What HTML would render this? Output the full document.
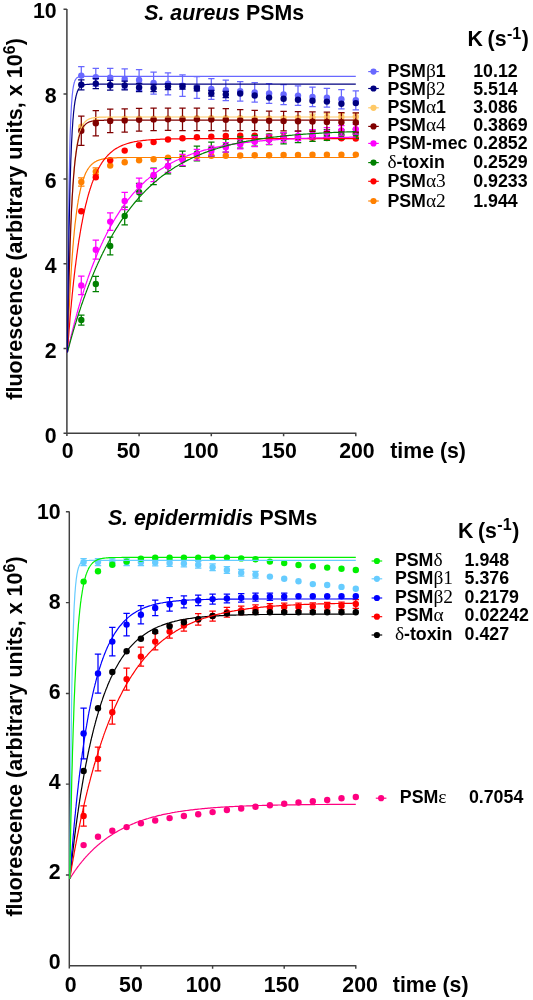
<!DOCTYPE html>
<html lang="en"><head><meta charset="utf-8"><title>PSM fluorescence kinetics</title>
<style>html,body{margin:0;padding:0;background:#fff}body{width:533px;height:1000px;overflow:hidden}svg{display:block;will-change:transform}</style>
</head><body>
<svg width="533" height="1000" viewBox="0 0 533 1000">
<rect width="533" height="1000" fill="#fff"/>
<path d="M66.9 8.9V436.1M63.5 433.3H356.4M63.5 348.5H66.9M63.5 263.7H66.9M63.5 178.9H66.9M63.5 94.1H66.9M63.5 9.3H66.9M139.1 433.3V436.3M211.3 433.3V436.3M283.6 433.3V436.3M355.8 433.3V436.3" stroke="#404040" stroke-width="1.5" fill="none"/>
<text x="56.6" y="18.2" text-anchor="end" font-family="Liberation Sans, Arial, sans-serif" font-weight="bold" font-size="21.3">10</text>
<text x="56.6" y="103.2" text-anchor="end" font-family="Liberation Sans, Arial, sans-serif" font-weight="bold" font-size="21.3">8</text>
<text x="56.6" y="188.2" text-anchor="end" font-family="Liberation Sans, Arial, sans-serif" font-weight="bold" font-size="21.3">6</text>
<text x="56.6" y="273.3" text-anchor="end" font-family="Liberation Sans, Arial, sans-serif" font-weight="bold" font-size="21.3">4</text>
<text x="56.6" y="358.3" text-anchor="end" font-family="Liberation Sans, Arial, sans-serif" font-weight="bold" font-size="21.3">2</text>
<text x="56.6" y="443.3" text-anchor="end" font-family="Liberation Sans, Arial, sans-serif" font-weight="bold" font-size="21.3">0</text>
<text x="67.7" y="458.2" text-anchor="middle" font-family="Liberation Sans, Arial, sans-serif" font-weight="bold" font-size="21.3">0</text>
<text x="128.5" y="458.2" text-anchor="middle" font-family="Liberation Sans, Arial, sans-serif" font-weight="bold" font-size="21.3">50</text>
<text x="200.9" y="458.2" text-anchor="middle" font-family="Liberation Sans, Arial, sans-serif" font-weight="bold" font-size="21.3">100</text>
<text x="279.0" y="458.2" text-anchor="middle" font-family="Liberation Sans, Arial, sans-serif" font-weight="bold" font-size="21.3">150</text>
<text x="356.9" y="458.2" text-anchor="middle" font-family="Liberation Sans, Arial, sans-serif" font-weight="bold" font-size="21.3">200</text>
<g><path d="M81.3 177.8V186.0M78.1 177.8H84.5M78.1 186.0H84.5" stroke="#ff8000" stroke-width="1.25" fill="none"/><circle cx="81.3" cy="181.9" r="3.2" fill="#ff8000"/><path d="M95.8 167.9V174.5M92.6 167.9H99.0M92.6 174.5H99.0" stroke="#ff8000" stroke-width="1.25" fill="none"/><circle cx="95.8" cy="171.6" r="3.2" fill="#ff8000"/><circle cx="110.2" cy="165.6" r="3.2" fill="#ff8000"/><circle cx="124.7" cy="162.2" r="3.2" fill="#ff8000"/><circle cx="139.1" cy="160.3" r="3.2" fill="#ff8000"/><circle cx="153.6" cy="159.2" r="3.2" fill="#ff8000"/><circle cx="168.0" cy="157.8" r="3.2" fill="#ff8000"/><circle cx="182.5" cy="157.0" r="3.2" fill="#ff8000"/><circle cx="196.9" cy="156.3" r="3.2" fill="#ff8000"/><circle cx="211.3" cy="155.8" r="3.2" fill="#ff8000"/><circle cx="225.8" cy="155.7" r="3.2" fill="#ff8000"/><circle cx="240.2" cy="155.5" r="3.2" fill="#ff8000"/><circle cx="254.7" cy="155.3" r="3.2" fill="#ff8000"/><circle cx="269.1" cy="155.2" r="3.2" fill="#ff8000"/><circle cx="283.6" cy="155.0" r="3.2" fill="#ff8000"/><circle cx="298.0" cy="154.9" r="3.2" fill="#ff8000"/><circle cx="312.5" cy="154.8" r="3.2" fill="#ff8000"/><circle cx="326.9" cy="154.8" r="3.2" fill="#ff8000"/><circle cx="341.4" cy="154.7" r="3.2" fill="#ff8000"/><circle cx="355.8" cy="154.6" r="3.2" fill="#ff8000"/></g>
<g><circle cx="81.3" cy="211.3" r="3.2" fill="#ff0000"/><circle cx="95.8" cy="177.2" r="3.2" fill="#ff0000"/><circle cx="110.2" cy="160.3" r="3.2" fill="#ff0000"/><circle cx="124.7" cy="150.6" r="3.2" fill="#ff0000"/><circle cx="139.1" cy="145.3" r="3.2" fill="#ff0000"/><circle cx="153.6" cy="142.1" r="3.2" fill="#ff0000"/><circle cx="168.0" cy="139.5" r="3.2" fill="#ff0000"/><circle cx="182.5" cy="138.2" r="3.2" fill="#ff0000"/><circle cx="196.9" cy="137.3" r="3.2" fill="#ff0000"/><circle cx="211.3" cy="136.6" r="3.2" fill="#ff0000"/><circle cx="225.8" cy="136.0" r="3.2" fill="#ff0000"/><circle cx="240.2" cy="135.6" r="3.2" fill="#ff0000"/><circle cx="254.7" cy="135.8" r="3.2" fill="#ff0000"/><circle cx="269.1" cy="136.5" r="3.2" fill="#ff0000"/><circle cx="283.6" cy="137.0" r="3.2" fill="#ff0000"/><circle cx="298.0" cy="137.5" r="3.2" fill="#ff0000"/><circle cx="312.5" cy="137.8" r="3.2" fill="#ff0000"/><circle cx="326.9" cy="138.0" r="3.2" fill="#ff0000"/><circle cx="341.4" cy="138.2" r="3.2" fill="#ff0000"/><circle cx="355.8" cy="138.5" r="3.2" fill="#ff0000"/></g>
<g><path d="M81.3 315.0V325.0M78.1 315.0H84.5M78.1 325.0H84.5" stroke="#008000" stroke-width="1.25" fill="none"/><circle cx="81.3" cy="320.0" r="3.2" fill="#008000"/><path d="M95.8 276.4V291.6M92.6 276.4H99.0M92.6 291.6H99.0" stroke="#008000" stroke-width="1.25" fill="none"/><circle cx="95.8" cy="284.0" r="3.2" fill="#008000"/><path d="M110.2 237.2V254.8M107.0 237.2H113.4M107.0 254.8H113.4" stroke="#008000" stroke-width="1.25" fill="none"/><circle cx="110.2" cy="246.0" r="3.2" fill="#008000"/><path d="M124.7 207.1V224.9M121.5 207.1H127.9M121.5 224.9H127.9" stroke="#008000" stroke-width="1.25" fill="none"/><circle cx="124.7" cy="216.0" r="3.2" fill="#008000"/><path d="M139.1 183.4V201.0M135.9 183.4H142.3M135.9 201.0H142.3" stroke="#008000" stroke-width="1.25" fill="none"/><circle cx="139.1" cy="192.2" r="3.2" fill="#008000"/><path d="M153.6 168.1V184.5M150.4 168.1H156.8M150.4 184.5H156.8" stroke="#008000" stroke-width="1.25" fill="none"/><circle cx="153.6" cy="176.3" r="3.2" fill="#008000"/><path d="M168.0 158.7V173.9M164.8 158.7H171.2M164.8 173.9H171.2" stroke="#008000" stroke-width="1.25" fill="none"/><circle cx="168.0" cy="166.3" r="3.2" fill="#008000"/><path d="M182.5 151.2V166.4M179.3 151.2H185.7M179.3 166.4H185.7" stroke="#008000" stroke-width="1.25" fill="none"/><circle cx="182.5" cy="158.8" r="3.2" fill="#008000"/><path d="M196.9 146.0V160.8M193.7 146.0H200.1M193.7 160.8H200.1" stroke="#008000" stroke-width="1.25" fill="none"/><circle cx="196.9" cy="153.4" r="3.2" fill="#008000"/><path d="M211.3 142.0V156.0M208.2 142.0H214.5M208.2 156.0H214.5" stroke="#008000" stroke-width="1.25" fill="none"/><circle cx="211.3" cy="149.0" r="3.2" fill="#008000"/><path d="M225.8 139.3V152.1M222.6 139.3H229.0M222.6 152.1H229.0" stroke="#008000" stroke-width="1.25" fill="none"/><circle cx="225.8" cy="145.7" r="3.2" fill="#008000"/><path d="M240.2 136.9V148.1M237.0 136.9H243.4M237.0 148.1H243.4" stroke="#008000" stroke-width="1.25" fill="none"/><circle cx="240.2" cy="142.5" r="3.2" fill="#008000"/><path d="M254.7 135.4V146.2M251.5 135.4H257.9M251.5 146.2H257.9" stroke="#008000" stroke-width="1.25" fill="none"/><circle cx="254.7" cy="140.8" r="3.2" fill="#008000"/><path d="M269.1 134.2V144.6M265.9 134.2H272.3M265.9 144.6H272.3" stroke="#008000" stroke-width="1.25" fill="none"/><circle cx="269.1" cy="139.4" r="3.2" fill="#008000"/><path d="M283.6 133.0V143.8M280.4 133.0H286.8M280.4 143.8H286.8" stroke="#008000" stroke-width="1.25" fill="none"/><circle cx="283.6" cy="138.4" r="3.2" fill="#008000"/><path d="M298.0 131.0V142.6M294.8 131.0H301.2M294.8 142.6H301.2" stroke="#008000" stroke-width="1.25" fill="none"/><circle cx="298.0" cy="136.8" r="3.2" fill="#008000"/><path d="M312.5 130.2V141.4M309.3 130.2H315.7M309.3 141.4H315.7" stroke="#008000" stroke-width="1.25" fill="none"/><circle cx="312.5" cy="135.8" r="3.2" fill="#008000"/><path d="M326.9 129.6V140.4M323.7 129.6H330.1M323.7 140.4H330.1" stroke="#008000" stroke-width="1.25" fill="none"/><circle cx="326.9" cy="135.0" r="3.2" fill="#008000"/><path d="M341.4 129.8V139.4M338.2 129.8H344.6M338.2 139.4H344.6" stroke="#008000" stroke-width="1.25" fill="none"/><circle cx="341.4" cy="134.6" r="3.2" fill="#008000"/><path d="M355.8 129.2V138.4M352.6 129.2H359.0M352.6 138.4H359.0" stroke="#008000" stroke-width="1.25" fill="none"/><circle cx="355.8" cy="133.8" r="3.2" fill="#008000"/></g>
<g><path d="M81.3 276.2V294.6M78.1 276.2H84.5M78.1 294.6H84.5" stroke="#ff00ff" stroke-width="1.25" fill="none"/><circle cx="81.3" cy="285.4" r="3.2" fill="#ff00ff"/><path d="M95.8 240.2V259.2M92.6 240.2H99.0M92.6 259.2H99.0" stroke="#ff00ff" stroke-width="1.25" fill="none"/><circle cx="95.8" cy="249.7" r="3.2" fill="#ff00ff"/><path d="M110.2 212.8V230.4M107.0 212.8H113.4M107.0 230.4H113.4" stroke="#ff00ff" stroke-width="1.25" fill="none"/><circle cx="110.2" cy="221.6" r="3.2" fill="#ff00ff"/><path d="M124.7 192.3V209.7M121.5 192.3H127.9M121.5 209.7H127.9" stroke="#ff00ff" stroke-width="1.25" fill="none"/><circle cx="124.7" cy="201.0" r="3.2" fill="#ff00ff"/><path d="M139.1 178.2V193.2M135.9 178.2H142.3M135.9 193.2H142.3" stroke="#ff00ff" stroke-width="1.25" fill="none"/><circle cx="139.1" cy="185.7" r="3.2" fill="#ff00ff"/><path d="M153.6 168.5V181.5M150.4 168.5H156.8M150.4 181.5H156.8" stroke="#ff00ff" stroke-width="1.25" fill="none"/><circle cx="153.6" cy="175.0" r="3.2" fill="#ff00ff"/><path d="M168.0 159.7V172.3M164.8 159.7H171.2M164.8 172.3H171.2" stroke="#ff00ff" stroke-width="1.25" fill="none"/><circle cx="168.0" cy="166.0" r="3.2" fill="#ff00ff"/><path d="M182.5 154.3V165.7M179.3 154.3H185.7M179.3 165.7H185.7" stroke="#ff00ff" stroke-width="1.25" fill="none"/><circle cx="182.5" cy="160.0" r="3.2" fill="#ff00ff"/><path d="M196.9 149.3V160.1M193.7 149.3H200.1M193.7 160.1H200.1" stroke="#ff00ff" stroke-width="1.25" fill="none"/><circle cx="196.9" cy="154.7" r="3.2" fill="#ff00ff"/><path d="M211.3 146.2V155.8M208.2 146.2H214.5M208.2 155.8H214.5" stroke="#ff00ff" stroke-width="1.25" fill="none"/><circle cx="211.3" cy="151.0" r="3.2" fill="#ff00ff"/><path d="M225.8 142.5V152.1M222.6 142.5H229.0M222.6 152.1H229.0" stroke="#ff00ff" stroke-width="1.25" fill="none"/><circle cx="225.8" cy="147.3" r="3.2" fill="#ff00ff"/><path d="M240.2 139.5V148.9M237.0 139.5H243.4M237.0 148.9H243.4" stroke="#ff00ff" stroke-width="1.25" fill="none"/><circle cx="240.2" cy="144.2" r="3.2" fill="#ff00ff"/><path d="M254.7 136.9V146.5M251.5 136.9H257.9M251.5 146.5H257.9" stroke="#ff00ff" stroke-width="1.25" fill="none"/><circle cx="254.7" cy="141.7" r="3.2" fill="#ff00ff"/><path d="M269.1 134.8V144.4M265.9 134.8H272.3M265.9 144.4H272.3" stroke="#ff00ff" stroke-width="1.25" fill="none"/><circle cx="269.1" cy="139.6" r="3.2" fill="#ff00ff"/><path d="M283.6 132.6V142.2M280.4 132.6H286.8M280.4 142.2H286.8" stroke="#ff00ff" stroke-width="1.25" fill="none"/><circle cx="283.6" cy="137.4" r="3.2" fill="#ff00ff"/><path d="M298.0 131.0V140.6M294.8 131.0H301.2M294.8 140.6H301.2" stroke="#ff00ff" stroke-width="1.25" fill="none"/><circle cx="298.0" cy="135.8" r="3.2" fill="#ff00ff"/><path d="M312.5 129.6V139.2M309.3 129.6H315.7M309.3 139.2H315.7" stroke="#ff00ff" stroke-width="1.25" fill="none"/><circle cx="312.5" cy="134.4" r="3.2" fill="#ff00ff"/><path d="M326.9 127.6V137.2M323.7 127.6H330.1M323.7 137.2H330.1" stroke="#ff00ff" stroke-width="1.25" fill="none"/><circle cx="326.9" cy="132.4" r="3.2" fill="#ff00ff"/><path d="M341.4 125.6V135.2M338.2 125.6H344.6M338.2 135.2H344.6" stroke="#ff00ff" stroke-width="1.25" fill="none"/><circle cx="341.4" cy="130.4" r="3.2" fill="#ff00ff"/><path d="M355.8 124.4V134.0M352.6 124.4H359.0M352.6 134.0H359.0" stroke="#ff00ff" stroke-width="1.25" fill="none"/><circle cx="355.8" cy="129.2" r="3.2" fill="#ff00ff"/></g>
<g><circle cx="81.3" cy="126.6" r="3.2" fill="#ffc966"/><circle cx="95.8" cy="121.6" r="3.2" fill="#ffc966"/><circle cx="110.2" cy="119.6" r="3.2" fill="#ffc966"/><circle cx="124.7" cy="118.8" r="3.2" fill="#ffc966"/><circle cx="139.1" cy="118.7" r="3.2" fill="#ffc966"/><circle cx="153.6" cy="118.6" r="3.2" fill="#ffc966"/><circle cx="168.0" cy="118.5" r="3.2" fill="#ffc966"/><circle cx="182.5" cy="118.4" r="3.2" fill="#ffc966"/><circle cx="196.9" cy="118.3" r="3.2" fill="#ffc966"/><circle cx="211.3" cy="118.2" r="3.2" fill="#ffc966"/><circle cx="225.8" cy="118.2" r="3.2" fill="#ffc966"/><circle cx="240.2" cy="118.3" r="3.2" fill="#ffc966"/><circle cx="254.7" cy="118.4" r="3.2" fill="#ffc966"/><circle cx="269.1" cy="118.4" r="3.2" fill="#ffc966"/><circle cx="283.6" cy="118.1" r="3.2" fill="#ffc966"/><circle cx="298.0" cy="117.7" r="3.2" fill="#ffc966"/><path d="M312.5 114.0V120.8M309.3 114.0H315.7M309.3 120.8H315.7" stroke="#ffc966" stroke-width="1.25" fill="none"/><circle cx="312.5" cy="117.4" r="3.2" fill="#ffc966"/><path d="M326.9 113.7V120.5M323.7 113.7H330.1M323.7 120.5H330.1" stroke="#ffc966" stroke-width="1.25" fill="none"/><circle cx="326.9" cy="117.1" r="3.2" fill="#ffc966"/><path d="M341.4 113.5V120.3M338.2 113.5H344.6M338.2 120.3H344.6" stroke="#ffc966" stroke-width="1.25" fill="none"/><circle cx="341.4" cy="116.9" r="3.2" fill="#ffc966"/><path d="M355.8 113.2V120.0M352.6 113.2H359.0M352.6 120.0H359.0" stroke="#ffc966" stroke-width="1.25" fill="none"/><circle cx="355.8" cy="116.6" r="3.2" fill="#ffc966"/></g>
<g><path d="M81.3 116.1V145.3M78.1 116.1H84.5M78.1 145.3H84.5" stroke="#800000" stroke-width="1.25" fill="none"/><circle cx="81.3" cy="130.7" r="3.2" fill="#800000"/><path d="M95.8 110.6V135.8M92.6 110.6H99.0M92.6 135.8H99.0" stroke="#800000" stroke-width="1.25" fill="none"/><circle cx="95.8" cy="123.2" r="3.2" fill="#800000"/><path d="M110.2 109.1V132.7M107.0 109.1H113.4M107.0 132.7H113.4" stroke="#800000" stroke-width="1.25" fill="none"/><circle cx="110.2" cy="120.9" r="3.2" fill="#800000"/><path d="M124.7 108.8V132.0M121.5 108.8H127.9M121.5 132.0H127.9" stroke="#800000" stroke-width="1.25" fill="none"/><circle cx="124.7" cy="120.4" r="3.2" fill="#800000"/><path d="M139.1 108.4V131.2M135.9 108.4H142.3M135.9 131.2H142.3" stroke="#800000" stroke-width="1.25" fill="none"/><circle cx="139.1" cy="119.8" r="3.2" fill="#800000"/><path d="M153.6 108.2V130.6M150.4 108.2H156.8M150.4 130.6H156.8" stroke="#800000" stroke-width="1.25" fill="none"/><circle cx="153.6" cy="119.4" r="3.2" fill="#800000"/><path d="M168.0 108.0V130.4M164.8 108.0H171.2M164.8 130.4H171.2" stroke="#800000" stroke-width="1.25" fill="none"/><circle cx="168.0" cy="119.2" r="3.2" fill="#800000"/><path d="M182.5 108.1V130.5M179.3 108.1H185.7M179.3 130.5H185.7" stroke="#800000" stroke-width="1.25" fill="none"/><circle cx="182.5" cy="119.3" r="3.2" fill="#800000"/><path d="M196.9 108.1V130.5M193.7 108.1H200.1M193.7 130.5H200.1" stroke="#800000" stroke-width="1.25" fill="none"/><circle cx="196.9" cy="119.3" r="3.2" fill="#800000"/><path d="M211.3 108.2V130.6M208.2 108.2H214.5M208.2 130.6H214.5" stroke="#800000" stroke-width="1.25" fill="none"/><circle cx="211.3" cy="119.4" r="3.2" fill="#800000"/><path d="M225.8 108.5V130.9M222.6 108.5H229.0M222.6 130.9H229.0" stroke="#800000" stroke-width="1.25" fill="none"/><circle cx="225.8" cy="119.7" r="3.2" fill="#800000"/><path d="M240.2 109.7V130.5M237.0 109.7H243.4M237.0 130.5H243.4" stroke="#800000" stroke-width="1.25" fill="none"/><circle cx="240.2" cy="120.1" r="3.2" fill="#800000"/><path d="M254.7 110.3V130.5M251.5 110.3H257.9M251.5 130.5H257.9" stroke="#800000" stroke-width="1.25" fill="none"/><circle cx="254.7" cy="120.4" r="3.2" fill="#800000"/><path d="M269.1 111.0V130.6M265.9 111.0H272.3M265.9 130.6H272.3" stroke="#800000" stroke-width="1.25" fill="none"/><circle cx="269.1" cy="120.8" r="3.2" fill="#800000"/><path d="M283.6 111.3V130.8M280.4 111.3H286.8M280.4 130.8H286.8" stroke="#800000" stroke-width="1.25" fill="none"/><circle cx="283.6" cy="121.1" r="3.2" fill="#800000"/><path d="M298.0 111.6V131.1M294.8 111.6H301.2M294.8 131.1H301.2" stroke="#800000" stroke-width="1.25" fill="none"/><circle cx="298.0" cy="121.3" r="3.2" fill="#800000"/><path d="M312.5 111.9V131.3M309.3 111.9H315.7M309.3 131.3H315.7" stroke="#800000" stroke-width="1.25" fill="none"/><circle cx="312.5" cy="121.6" r="3.2" fill="#800000"/><path d="M326.9 112.2V131.6M323.7 112.2H330.1M323.7 131.6H330.1" stroke="#800000" stroke-width="1.25" fill="none"/><circle cx="326.9" cy="121.9" r="3.2" fill="#800000"/><path d="M341.4 112.6V131.8M338.2 112.6H344.6M338.2 131.8H344.6" stroke="#800000" stroke-width="1.25" fill="none"/><circle cx="341.4" cy="122.2" r="3.2" fill="#800000"/><path d="M355.8 112.9V132.1M352.6 112.9H359.0M352.6 132.1H359.0" stroke="#800000" stroke-width="1.25" fill="none"/><circle cx="355.8" cy="122.5" r="3.2" fill="#800000"/></g>
<g><path d="M81.3 66.5V84.7M78.1 66.5H84.5M78.1 84.7H84.5" stroke="#6868ff" stroke-width="1.25" fill="none"/><circle cx="81.3" cy="75.6" r="3.2" fill="#6868ff"/><path d="M95.8 68.4V86.0M92.6 68.4H99.0M92.6 86.0H99.0" stroke="#6868ff" stroke-width="1.25" fill="none"/><circle cx="95.8" cy="77.2" r="3.2" fill="#6868ff"/><path d="M110.2 68.4V87.2M107.0 68.4H113.4M107.0 87.2H113.4" stroke="#6868ff" stroke-width="1.25" fill="none"/><circle cx="110.2" cy="77.8" r="3.2" fill="#6868ff"/><path d="M124.7 68.8V89.2M121.5 68.8H127.9M121.5 89.2H127.9" stroke="#6868ff" stroke-width="1.25" fill="none"/><circle cx="124.7" cy="79.0" r="3.2" fill="#6868ff"/><path d="M139.1 69.7V90.3M135.9 69.7H142.3M135.9 90.3H142.3" stroke="#6868ff" stroke-width="1.25" fill="none"/><circle cx="139.1" cy="80.0" r="3.2" fill="#6868ff"/><path d="M153.6 72.0V94.0M150.4 72.0H156.8M150.4 94.0H156.8" stroke="#6868ff" stroke-width="1.25" fill="none"/><circle cx="153.6" cy="83.0" r="3.2" fill="#6868ff"/><path d="M168.0 72.8V94.8M164.8 72.8H171.2M164.8 94.8H171.2" stroke="#6868ff" stroke-width="1.25" fill="none"/><circle cx="168.0" cy="83.8" r="3.2" fill="#6868ff"/><path d="M182.5 74.8V96.4M179.3 74.8H185.7M179.3 96.4H185.7" stroke="#6868ff" stroke-width="1.25" fill="none"/><circle cx="182.5" cy="85.6" r="3.2" fill="#6868ff"/><path d="M196.9 76.7V98.3M193.7 76.7H200.1M193.7 98.3H200.1" stroke="#6868ff" stroke-width="1.25" fill="none"/><circle cx="196.9" cy="87.5" r="3.2" fill="#6868ff"/><path d="M211.3 78.7V99.3M208.2 78.7H214.5M208.2 99.3H214.5" stroke="#6868ff" stroke-width="1.25" fill="none"/><circle cx="211.3" cy="89.0" r="3.2" fill="#6868ff"/><path d="M225.8 80.1V100.5M222.6 80.1H229.0M222.6 100.5H229.0" stroke="#6868ff" stroke-width="1.25" fill="none"/><circle cx="225.8" cy="90.3" r="3.2" fill="#6868ff"/><path d="M240.2 81.5V101.1M237.0 81.5H243.4M237.0 101.1H243.4" stroke="#6868ff" stroke-width="1.25" fill="none"/><circle cx="240.2" cy="91.3" r="3.2" fill="#6868ff"/><path d="M254.7 82.6V102.2M251.5 82.6H257.9M251.5 102.2H257.9" stroke="#6868ff" stroke-width="1.25" fill="none"/><circle cx="254.7" cy="92.4" r="3.2" fill="#6868ff"/><path d="M269.1 83.7V103.3M265.9 83.7H272.3M265.9 103.3H272.3" stroke="#6868ff" stroke-width="1.25" fill="none"/><circle cx="269.1" cy="93.5" r="3.2" fill="#6868ff"/><path d="M283.6 84.5V104.5M280.4 84.5H286.8M280.4 104.5H286.8" stroke="#6868ff" stroke-width="1.25" fill="none"/><circle cx="283.6" cy="94.5" r="3.2" fill="#6868ff"/><path d="M298.0 85.8V105.4M294.8 85.8H301.2M294.8 105.4H301.2" stroke="#6868ff" stroke-width="1.25" fill="none"/><circle cx="298.0" cy="95.6" r="3.2" fill="#6868ff"/><path d="M312.5 87.2V106.6M309.3 87.2H315.7M309.3 106.6H315.7" stroke="#6868ff" stroke-width="1.25" fill="none"/><circle cx="312.5" cy="96.9" r="3.2" fill="#6868ff"/><path d="M326.9 88.4V107.2M323.7 88.4H330.1M323.7 107.2H330.1" stroke="#6868ff" stroke-width="1.25" fill="none"/><circle cx="326.9" cy="97.8" r="3.2" fill="#6868ff"/><path d="M341.4 89.6V108.8M338.2 89.6H344.6M338.2 108.8H344.6" stroke="#6868ff" stroke-width="1.25" fill="none"/><circle cx="341.4" cy="99.2" r="3.2" fill="#6868ff"/><path d="M355.8 90.8V109.8M352.6 90.8H359.0M352.6 109.8H359.0" stroke="#6868ff" stroke-width="1.25" fill="none"/><circle cx="355.8" cy="100.3" r="3.2" fill="#6868ff"/></g>
<g><path d="M81.3 79.8V89.8M78.1 79.8H84.5M78.1 89.8H84.5" stroke="#000080" stroke-width="1.25" fill="none"/><circle cx="81.3" cy="84.8" r="3.2" fill="#000080"/><path d="M95.8 78.6V88.6M92.6 78.6H99.0M92.6 88.6H99.0" stroke="#000080" stroke-width="1.25" fill="none"/><circle cx="95.8" cy="83.6" r="3.2" fill="#000080"/><path d="M110.2 80.4V90.0M107.0 80.4H113.4M107.0 90.0H113.4" stroke="#000080" stroke-width="1.25" fill="none"/><circle cx="110.2" cy="85.2" r="3.2" fill="#000080"/><path d="M124.7 81.0V89.8M121.5 81.0H127.9M121.5 89.8H127.9" stroke="#000080" stroke-width="1.25" fill="none"/><circle cx="124.7" cy="85.4" r="3.2" fill="#000080"/><path d="M139.1 83.3V91.7M135.9 83.3H142.3M135.9 91.7H142.3" stroke="#000080" stroke-width="1.25" fill="none"/><circle cx="139.1" cy="87.5" r="3.2" fill="#000080"/><path d="M153.6 84.5V91.7M150.4 84.5H156.8M150.4 91.7H156.8" stroke="#000080" stroke-width="1.25" fill="none"/><circle cx="153.6" cy="88.1" r="3.2" fill="#000080"/><path d="M168.0 83.6V89.6M164.8 83.6H171.2M164.8 89.6H171.2" stroke="#000080" stroke-width="1.25" fill="none"/><circle cx="168.0" cy="86.6" r="3.2" fill="#000080"/><path d="M182.5 84.0V89.2M179.3 84.0H185.7M179.3 89.2H185.7" stroke="#000080" stroke-width="1.25" fill="none"/><circle cx="182.5" cy="86.6" r="3.2" fill="#000080"/><path d="M196.9 86.1V90.9M193.7 86.1H200.1M193.7 90.9H200.1" stroke="#000080" stroke-width="1.25" fill="none"/><circle cx="196.9" cy="88.5" r="3.2" fill="#000080"/><path d="M211.3 90.4V96.0M208.2 90.4H214.5M208.2 96.0H214.5" stroke="#000080" stroke-width="1.25" fill="none"/><circle cx="211.3" cy="93.2" r="3.2" fill="#000080"/><path d="M225.8 91.3V97.7M222.6 91.3H229.0M222.6 97.7H229.0" stroke="#000080" stroke-width="1.25" fill="none"/><circle cx="225.8" cy="94.5" r="3.2" fill="#000080"/><circle cx="240.2" cy="93.5" r="3.2" fill="#000080"/><circle cx="254.7" cy="95.5" r="3.2" fill="#000080"/><circle cx="269.1" cy="97.6" r="3.2" fill="#000080"/><circle cx="283.6" cy="98.8" r="3.2" fill="#000080"/><circle cx="298.0" cy="99.7" r="3.2" fill="#000080"/><circle cx="312.5" cy="100.7" r="3.2" fill="#000080"/><circle cx="326.9" cy="101.6" r="3.2" fill="#000080"/><circle cx="341.4" cy="103.8" r="3.2" fill="#000080"/><circle cx="355.8" cy="103.1" r="3.2" fill="#000080"/></g>
<path d="M67.4 352.5 L67.7 343.3 L68.1 334.5 L68.4 326.1 L68.8 318.1 L69.1 310.5 L69.5 303.2 L69.8 296.3 L70.1 289.7 L70.5 283.4 L70.8 277.5 L71.2 271.8 L71.5 266.3 L71.9 261.2 L72.2 256.3 L72.6 251.6 L72.9 247.1 L73.3 242.9 L73.6 238.8 L74.0 235.0 L74.3 231.3 L74.7 227.8 L75.0 224.4 L75.4 221.3 L75.8 218.2 L76.1 215.4 L76.5 212.6 L76.8 210.0 L77.2 207.5 L77.5 205.1 L77.9 202.9 L78.2 200.7 L78.6 198.7 L78.9 196.7 L79.3 194.9 L79.7 193.1 L80.0 191.4 L80.4 189.8 L80.7 188.3 L81.1 186.8 L81.4 185.4 L81.8 184.1 L82.2 182.8 L82.5 181.6 L82.9 180.5 L83.2 179.4 L83.6 178.3 L83.9 177.4 L84.3 176.4 L84.7 175.5 L85.0 174.7 L85.4 173.8 L85.7 173.1 L86.1 172.3 L86.5 171.6 L86.8 171.0 L87.2 170.3 L87.5 169.7 L87.9 169.1 L88.2 168.6 L88.6 168.0 L89.0 167.5 L89.3 167.1 L89.7 166.6 L90.0 166.2 L90.4 165.8 L90.8 165.4 L91.1 165.0 L91.5 164.6 L91.8 164.3 L92.2 164.0 L92.6 163.7 L92.9 163.4 L93.3 163.1 L93.6 162.8 L94.0 162.6 L94.4 162.3 L94.7 162.1 L95.1 161.9 L95.4 161.7 L95.8 161.5 L96.2 161.3 L96.5 161.1 L96.9 160.9 L97.2 160.8 L97.6 160.6 L98.0 160.5 L98.3 160.3 L98.7 160.2 L99.1 160.1 L99.4 159.9 L99.8 159.8 L100.1 159.7 L100.5 159.6 L100.9 159.5 L101.2 159.4 L101.6 159.3 L101.9 159.2 L102.3 159.2 L102.7 159.1 L103.0 159.0 L103.4 158.9 L103.7 158.9 L104.1 158.8 L104.5 158.7 L104.8 158.7 L105.2 158.6 L105.5 158.6 L105.9 158.5 L106.3 158.5 L106.6 158.4 L107.0 158.4 L107.4 158.3 L107.7 158.3 L108.1 158.3 L108.4 158.2 L108.8 158.2 L109.2 158.1 L109.5 158.1 L109.9 158.1 L110.2 158.1 L111.7 158.0 L113.1 157.9 L114.6 157.8 L116.0 157.8 L117.5 157.7 L118.9 157.7 L120.3 157.6 L121.8 157.6 L123.2 157.6 L124.7 157.6 L126.1 157.6 L127.6 157.5 L129.0 157.5 L130.5 157.5 L131.9 157.5 L133.3 157.5 L134.8 157.5 L136.2 157.5 L137.7 157.5 L139.1 157.5 L140.6 157.5 L142.0 157.5 L143.5 157.5 L144.9 157.5 L146.3 157.5 L147.8 157.5 L149.2 157.5 L150.7 157.5 L152.1 157.5 L153.6 157.5 L155.0 157.5 L156.5 157.5 L157.9 157.5 L159.3 157.5 L160.8 157.5 L162.2 157.5 L163.7 157.5 L165.1 157.5 L166.6 157.5 L168.0 157.5 L169.5 157.5 L170.9 157.5 L172.3 157.5 L173.8 157.5 L175.2 157.5 L176.7 157.5 L178.1 157.5 L179.6 157.5 L181.0 157.5 L182.5 157.5 L183.9 157.5 L185.3 157.5 L186.8 157.5 L188.2 157.5 L189.7 157.5 L191.1 157.5 L192.6 157.5 L194.0 157.5 L195.5 157.5 L196.9 157.5 L198.3 157.5 L199.8 157.5 L201.2 157.5 L202.7 157.5 L204.1 157.5 L205.6 157.5 L207.0 157.5 L208.5 157.5 L209.9 157.5 L211.4 157.5 L212.8 157.5 L214.2 157.5 L215.7 157.5 L217.1 157.5 L218.6 157.5 L220.0 157.5 L221.5 157.5 L222.9 157.5 L224.4 157.5 L225.8 157.5 L227.2 157.5 L228.7 157.5 L230.1 157.5 L231.6 157.5 L233.0 157.5 L234.5 157.5 L235.9 157.5 L237.4 157.5 L238.8 157.5 L240.2 157.5 L241.7 157.5 L243.1 157.5 L244.6 157.5 L246.0 157.5 L247.5 157.5 L248.9 157.5 L250.4 157.5 L251.8 157.5 L253.2 157.5 L254.7 157.5 L256.1 157.5 L257.6 157.5 L259.0 157.5 L260.5 157.5 L261.9 157.5 L263.4 157.5 L264.8 157.5 L266.2 157.5 L267.7 157.5 L269.1 157.5 L270.6 157.5 L272.0 157.5 L273.5 157.5 L274.9 157.5 L276.4 157.5 L277.8 157.5 L279.2 157.5 L280.7 157.5 L282.1 157.5 L283.6 157.5 L285.0 157.5 L286.5 157.5 L287.9 157.5 L289.4 157.5 L290.8 157.5 L292.2 157.5 L293.7 157.5 L295.1 157.5 L296.6 157.5 L298.0 157.5 L299.5 157.5 L300.9 157.5 L302.4 157.5 L303.8 157.5 L305.2 157.5 L306.7 157.5 L308.1 157.5 L309.6 157.5 L311.0 157.5 L312.5 157.5 L313.9 157.5 L315.4 157.5 L316.8 157.5 L318.2 157.5 L319.7 157.5 L321.1 157.5 L322.6 157.5 L324.0 157.5 L325.5 157.5 L326.9 157.5 L328.4 157.5 L329.8 157.5 L331.2 157.5 L332.7 157.5 L334.1 157.5 L335.6 157.5 L337.0 157.5 L338.5 157.5 L339.9 157.5 L341.4 157.5 L342.8 157.5 L344.2 157.5 L345.7 157.5 L347.1 157.5 L348.6 157.5 L350.0 157.5 L351.5 157.5 L352.9 157.5 L354.4 157.5 L355.8 157.5" fill="none" stroke="#ff8000" stroke-width="1.2" stroke-linejoin="round"/>
<path d="M67.4 352.5 L67.7 347.8 L68.1 343.1 L68.4 338.6 L68.8 334.1 L69.1 329.8 L69.5 325.5 L69.8 321.4 L70.1 317.3 L70.5 313.3 L70.8 309.4 L71.2 305.6 L71.5 301.9 L71.9 298.3 L72.2 294.7 L72.6 291.3 L72.9 287.9 L73.3 284.5 L73.6 281.3 L74.0 278.1 L74.3 275.0 L74.7 272.0 L75.0 269.0 L75.4 266.1 L75.8 263.3 L76.1 260.5 L76.5 257.8 L76.8 255.1 L77.2 252.5 L77.5 250.0 L77.9 247.5 L78.2 245.1 L78.6 242.7 L78.9 240.4 L79.3 238.2 L79.7 235.9 L80.0 233.8 L80.4 231.7 L80.7 229.6 L81.1 227.6 L81.4 225.6 L81.8 223.7 L82.2 221.8 L82.5 219.9 L82.9 218.1 L83.2 216.3 L83.6 214.6 L83.9 212.9 L84.3 211.3 L84.7 209.6 L85.0 208.1 L85.4 206.5 L85.7 205.0 L86.1 203.5 L86.5 202.1 L86.8 200.7 L87.2 199.3 L87.5 197.9 L87.9 196.6 L88.2 195.3 L88.6 194.1 L89.0 192.8 L89.3 191.6 L89.7 190.5 L90.0 189.3 L90.4 188.2 L90.8 187.1 L91.1 186.0 L91.5 184.9 L91.8 183.9 L92.2 182.9 L92.6 181.9 L92.9 181.0 L93.3 180.0 L93.6 179.1 L94.0 178.2 L94.4 177.3 L94.7 176.4 L95.1 175.6 L95.4 174.8 L95.8 174.0 L96.2 173.2 L96.5 172.4 L96.9 171.7 L97.2 170.9 L97.6 170.2 L98.0 169.5 L98.3 168.8 L98.7 168.2 L99.1 167.5 L99.4 166.9 L99.8 166.2 L100.1 165.6 L100.5 165.0 L100.9 164.4 L101.2 163.9 L101.6 163.3 L101.9 162.7 L102.3 162.2 L102.7 161.7 L103.0 161.2 L103.4 160.7 L103.7 160.2 L104.1 159.7 L104.5 159.2 L104.8 158.8 L105.2 158.3 L105.5 157.9 L105.9 157.5 L106.3 157.0 L106.6 156.6 L107.0 156.2 L107.4 155.8 L107.7 155.4 L108.1 155.1 L108.4 154.7 L108.8 154.3 L109.2 154.0 L109.5 153.7 L109.9 153.3 L110.2 153.0 L111.7 151.8 L113.1 150.6 L114.6 149.6 L116.0 148.6 L117.5 147.8 L118.9 147.0 L120.3 146.3 L121.8 145.6 L123.2 145.0 L124.7 144.5 L126.1 144.0 L127.6 143.5 L129.0 143.1 L130.5 142.7 L131.9 142.3 L133.3 142.0 L134.8 141.7 L136.2 141.5 L137.7 141.2 L139.1 141.0 L140.6 140.8 L142.0 140.6 L143.5 140.4 L144.9 140.3 L146.3 140.1 L147.8 140.0 L149.2 139.9 L150.7 139.8 L152.1 139.7 L153.6 139.6 L155.0 139.5 L156.5 139.4 L157.9 139.4 L159.3 139.3 L160.8 139.2 L162.2 139.2 L163.7 139.1 L165.1 139.1 L166.6 139.0 L168.0 139.0 L169.5 139.0 L170.9 138.9 L172.3 138.9 L173.8 138.9 L175.2 138.9 L176.7 138.8 L178.1 138.8 L179.6 138.8 L181.0 138.8 L182.5 138.8 L183.9 138.8 L185.3 138.8 L186.8 138.7 L188.2 138.7 L189.7 138.7 L191.1 138.7 L192.6 138.7 L194.0 138.7 L195.5 138.7 L196.9 138.7 L198.3 138.7 L199.8 138.7 L201.2 138.7 L202.7 138.7 L204.1 138.7 L205.6 138.7 L207.0 138.7 L208.5 138.7 L209.9 138.6 L211.4 138.6 L212.8 138.6 L214.2 138.6 L215.7 138.6 L217.1 138.6 L218.6 138.6 L220.0 138.6 L221.5 138.6 L222.9 138.6 L224.4 138.6 L225.8 138.6 L227.2 138.6 L228.7 138.6 L230.1 138.6 L231.6 138.6 L233.0 138.6 L234.5 138.6 L235.9 138.6 L237.4 138.6 L238.8 138.6 L240.2 138.6 L241.7 138.6 L243.1 138.6 L244.6 138.6 L246.0 138.6 L247.5 138.6 L248.9 138.6 L250.4 138.6 L251.8 138.6 L253.2 138.6 L254.7 138.6 L256.1 138.6 L257.6 138.6 L259.0 138.6 L260.5 138.6 L261.9 138.6 L263.4 138.6 L264.8 138.6 L266.2 138.6 L267.7 138.6 L269.1 138.6 L270.6 138.6 L272.0 138.6 L273.5 138.6 L274.9 138.6 L276.4 138.6 L277.8 138.6 L279.2 138.6 L280.7 138.6 L282.1 138.6 L283.6 138.6 L285.0 138.6 L286.5 138.6 L287.9 138.6 L289.4 138.6 L290.8 138.6 L292.2 138.6 L293.7 138.6 L295.1 138.6 L296.6 138.6 L298.0 138.6 L299.5 138.6 L300.9 138.6 L302.4 138.6 L303.8 138.6 L305.2 138.6 L306.7 138.6 L308.1 138.6 L309.6 138.6 L311.0 138.6 L312.5 138.6 L313.9 138.6 L315.4 138.6 L316.8 138.6 L318.2 138.6 L319.7 138.6 L321.1 138.6 L322.6 138.6 L324.0 138.6 L325.5 138.6 L326.9 138.6 L328.4 138.6 L329.8 138.6 L331.2 138.6 L332.7 138.6 L334.1 138.6 L335.6 138.6 L337.0 138.6 L338.5 138.6 L339.9 138.6 L341.4 138.6 L342.8 138.6 L344.2 138.6 L345.7 138.6 L347.1 138.6 L348.6 138.6 L350.0 138.6 L351.5 138.6 L352.9 138.6 L354.4 138.6 L355.8 138.6" fill="none" stroke="#ff0000" stroke-width="1.2" stroke-linejoin="round"/>
<path d="M67.4 352.5 L67.7 335.0 L68.1 318.7 L68.4 303.7 L68.8 289.7 L69.1 276.9 L69.5 264.9 L69.8 253.9 L70.1 243.7 L70.5 234.3 L70.8 225.5 L71.2 217.4 L71.5 209.9 L71.9 203.0 L72.2 196.6 L72.6 190.6 L72.9 185.2 L73.3 180.1 L73.6 175.4 L74.0 171.0 L74.3 167.0 L74.7 163.3 L75.0 159.8 L75.4 156.6 L75.8 153.7 L76.1 150.9 L76.5 148.4 L76.8 146.1 L77.2 143.9 L77.5 141.9 L77.9 140.0 L78.2 138.3 L78.6 136.7 L78.9 135.2 L79.3 133.9 L79.7 132.6 L80.0 131.5 L80.4 130.4 L80.7 129.4 L81.1 128.5 L81.4 127.6 L81.8 126.8 L82.2 126.1 L82.5 125.4 L82.9 124.8 L83.2 124.2 L83.6 123.7 L83.9 123.2 L84.3 122.7 L84.7 122.3 L85.0 121.9 L85.4 121.5 L85.7 121.2 L86.1 120.9 L86.5 120.6 L86.8 120.3 L87.2 120.1 L87.5 119.8 L87.9 119.6 L88.2 119.4 L88.6 119.2 L89.0 119.1 L89.3 118.9 L89.7 118.8 L90.0 118.6 L90.4 118.5 L90.8 118.4 L91.1 118.3 L91.5 118.2 L91.8 118.1 L92.2 118.0 L92.6 118.0 L92.9 117.9 L93.3 117.8 L93.6 117.8 L94.0 117.7 L94.4 117.6 L94.7 117.6 L95.1 117.6 L95.4 117.5 L95.8 117.5 L96.2 117.4 L96.5 117.4 L96.9 117.4 L97.2 117.3 L97.6 117.3 L98.0 117.3 L98.3 117.3 L98.7 117.3 L99.1 117.2 L99.4 117.2 L99.8 117.2 L100.1 117.2 L100.5 117.2 L100.9 117.2 L101.2 117.1 L101.6 117.1 L101.9 117.1 L102.3 117.1 L102.7 117.1 L103.0 117.1 L103.4 117.1 L103.7 117.1 L104.1 117.1 L104.5 117.1 L104.8 117.1 L105.2 117.1 L105.5 117.1 L105.9 117.1 L106.3 117.0 L106.6 117.0 L107.0 117.0 L107.4 117.0 L107.7 117.0 L108.1 117.0 L108.4 117.0 L108.8 117.0 L109.2 117.0 L109.5 117.0 L109.9 117.0 L110.2 117.0 L111.7 117.0 L113.1 117.0 L114.6 117.0 L116.0 117.0 L117.5 117.0 L118.9 117.0 L120.3 117.0 L121.8 117.0 L123.2 117.0 L124.7 117.0 L126.1 117.0 L127.6 117.0 L129.0 117.0 L130.5 117.0 L131.9 117.0 L133.3 117.0 L134.8 117.0 L136.2 117.0 L137.7 117.0 L139.1 117.0 L140.6 117.0 L142.0 117.0 L143.5 117.0 L144.9 117.0 L146.3 117.0 L147.8 117.0 L149.2 117.0 L150.7 117.0 L152.1 117.0 L153.6 117.0 L155.0 117.0 L156.5 117.0 L157.9 117.0 L159.3 117.0 L160.8 117.0 L162.2 117.0 L163.7 117.0 L165.1 117.0 L166.6 117.0 L168.0 117.0 L169.5 117.0 L170.9 117.0 L172.3 117.0 L173.8 117.0 L175.2 117.0 L176.7 117.0 L178.1 117.0 L179.6 117.0 L181.0 117.0 L182.5 117.0 L183.9 117.0 L185.3 117.0 L186.8 117.0 L188.2 117.0 L189.7 117.0 L191.1 117.0 L192.6 117.0 L194.0 117.0 L195.5 117.0 L196.9 117.0 L198.3 117.0 L199.8 117.0 L201.2 117.0 L202.7 117.0 L204.1 117.0 L205.6 117.0 L207.0 117.0 L208.5 117.0 L209.9 117.0 L211.4 117.0 L212.8 117.0 L214.2 117.0 L215.7 117.0 L217.1 117.0 L218.6 117.0 L220.0 117.0 L221.5 117.0 L222.9 117.0 L224.4 117.0 L225.8 117.0 L227.2 117.0 L228.7 117.0 L230.1 117.0 L231.6 117.0 L233.0 117.0 L234.5 117.0 L235.9 117.0 L237.4 117.0 L238.8 117.0 L240.2 117.0 L241.7 117.0 L243.1 117.0 L244.6 117.0 L246.0 117.0 L247.5 117.0 L248.9 117.0 L250.4 117.0 L251.8 117.0 L253.2 117.0 L254.7 117.0 L256.1 117.0 L257.6 117.0 L259.0 117.0 L260.5 117.0 L261.9 117.0 L263.4 117.0 L264.8 117.0 L266.2 117.0 L267.7 117.0 L269.1 117.0 L270.6 117.0 L272.0 117.0 L273.5 117.0 L274.9 117.0 L276.4 117.0 L277.8 117.0 L279.2 117.0 L280.7 117.0 L282.1 117.0 L283.6 117.0 L285.0 117.0 L286.5 117.0 L287.9 117.0 L289.4 117.0 L290.8 117.0 L292.2 117.0 L293.7 117.0 L295.1 117.0 L296.6 117.0 L298.0 117.0 L299.5 117.0 L300.9 117.0 L302.4 117.0 L303.8 117.0 L305.2 117.0 L306.7 117.0 L308.1 117.0 L309.6 117.0 L311.0 117.0 L312.5 117.0 L313.9 117.0 L315.4 117.0 L316.8 117.0 L318.2 117.0 L319.7 117.0 L321.1 117.0 L322.6 117.0 L324.0 117.0 L325.5 117.0 L326.9 117.0 L328.4 117.0 L329.8 117.0 L331.2 117.0 L332.7 117.0 L334.1 117.0 L335.6 117.0 L337.0 117.0 L338.5 117.0 L339.9 117.0 L341.4 117.0 L342.8 117.0 L344.2 117.0 L345.7 117.0 L347.1 117.0 L348.6 117.0 L350.0 117.0 L351.5 117.0 L352.9 117.0 L354.4 117.0 L355.8 117.0" fill="none" stroke="#ffc966" stroke-width="1.2" stroke-linejoin="round"/>
<path d="M67.4 352.5 L67.7 334.9 L68.1 318.7 L68.4 303.6 L68.8 289.7 L69.1 276.9 L69.5 265.0 L69.8 254.1 L70.1 243.9 L70.5 234.6 L70.8 225.9 L71.2 217.9 L71.5 210.5 L71.9 203.6 L72.2 197.3 L72.6 191.5 L72.9 186.1 L73.3 181.1 L73.6 176.5 L74.0 172.2 L74.3 168.3 L74.7 164.6 L75.0 161.3 L75.4 158.2 L75.8 155.3 L76.1 152.6 L76.5 150.2 L76.8 147.9 L77.2 145.8 L77.5 143.9 L77.9 142.1 L78.2 140.4 L78.6 138.9 L78.9 137.5 L79.3 136.1 L79.7 134.9 L80.0 133.8 L80.4 132.8 L80.7 131.8 L81.1 130.9 L81.4 130.1 L81.8 129.4 L82.2 128.7 L82.5 128.0 L82.9 127.4 L83.2 126.9 L83.6 126.4 L83.9 125.9 L84.3 125.5 L84.7 125.1 L85.0 124.7 L85.4 124.4 L85.7 124.0 L86.1 123.8 L86.5 123.5 L86.8 123.2 L87.2 123.0 L87.5 122.8 L87.9 122.6 L88.2 122.4 L88.6 122.2 L89.0 122.1 L89.3 121.9 L89.7 121.8 L90.0 121.7 L90.4 121.6 L90.8 121.5 L91.1 121.4 L91.5 121.3 L91.8 121.2 L92.2 121.1 L92.6 121.0 L92.9 121.0 L93.3 120.9 L93.6 120.9 L94.0 120.8 L94.4 120.8 L94.7 120.7 L95.1 120.7 L95.4 120.6 L95.8 120.6 L96.2 120.6 L96.5 120.5 L96.9 120.5 L97.2 120.5 L97.6 120.5 L98.0 120.4 L98.3 120.4 L98.7 120.4 L99.1 120.4 L99.4 120.4 L99.8 120.4 L100.1 120.3 L100.5 120.3 L100.9 120.3 L101.2 120.3 L101.6 120.3 L101.9 120.3 L102.3 120.3 L102.7 120.3 L103.0 120.3 L103.4 120.3 L103.7 120.3 L104.1 120.2 L104.5 120.2 L104.8 120.2 L105.2 120.2 L105.5 120.2 L105.9 120.2 L106.3 120.2 L106.6 120.2 L107.0 120.2 L107.4 120.2 L107.7 120.2 L108.1 120.2 L108.4 120.2 L108.8 120.2 L109.2 120.2 L109.5 120.2 L109.9 120.2 L110.2 120.2 L111.7 120.2 L113.1 120.2 L114.6 120.2 L116.0 120.2 L117.5 120.2 L118.9 120.2 L120.3 120.2 L121.8 120.2 L123.2 120.2 L124.7 120.2 L126.1 120.2 L127.6 120.2 L129.0 120.2 L130.5 120.2 L131.9 120.2 L133.3 120.2 L134.8 120.2 L136.2 120.2 L137.7 120.2 L139.1 120.2 L140.6 120.2 L142.0 120.2 L143.5 120.2 L144.9 120.2 L146.3 120.2 L147.8 120.2 L149.2 120.2 L150.7 120.2 L152.1 120.2 L153.6 120.2 L155.0 120.2 L156.5 120.2 L157.9 120.2 L159.3 120.2 L160.8 120.2 L162.2 120.2 L163.7 120.2 L165.1 120.2 L166.6 120.2 L168.0 120.2 L169.5 120.2 L170.9 120.2 L172.3 120.2 L173.8 120.2 L175.2 120.2 L176.7 120.2 L178.1 120.2 L179.6 120.2 L181.0 120.2 L182.5 120.2 L183.9 120.2 L185.3 120.2 L186.8 120.2 L188.2 120.2 L189.7 120.2 L191.1 120.2 L192.6 120.2 L194.0 120.2 L195.5 120.2 L196.9 120.2 L198.3 120.2 L199.8 120.2 L201.2 120.2 L202.7 120.2 L204.1 120.2 L205.6 120.2 L207.0 120.2 L208.5 120.2 L209.9 120.2 L211.4 120.2 L212.8 120.2 L214.2 120.2 L215.7 120.2 L217.1 120.2 L218.6 120.2 L220.0 120.2 L221.5 120.2 L222.9 120.2 L224.4 120.2 L225.8 120.2 L227.2 120.2 L228.7 120.2 L230.1 120.2 L231.6 120.2 L233.0 120.2 L234.5 120.2 L235.9 120.2 L237.4 120.2 L238.8 120.2 L240.2 120.2 L241.7 120.2 L243.1 120.2 L244.6 120.2 L246.0 120.2 L247.5 120.2 L248.9 120.2 L250.4 120.2 L251.8 120.2 L253.2 120.2 L254.7 120.2 L256.1 120.2 L257.6 120.2 L259.0 120.2 L260.5 120.2 L261.9 120.2 L263.4 120.2 L264.8 120.2 L266.2 120.2 L267.7 120.2 L269.1 120.2 L270.6 120.2 L272.0 120.2 L273.5 120.2 L274.9 120.2 L276.4 120.2 L277.8 120.2 L279.2 120.2 L280.7 120.2 L282.1 120.2 L283.6 120.2 L285.0 120.2 L286.5 120.2 L287.9 120.2 L289.4 120.2 L290.8 120.2 L292.2 120.2 L293.7 120.2 L295.1 120.2 L296.6 120.2 L298.0 120.2 L299.5 120.2 L300.9 120.2 L302.4 120.2 L303.8 120.2 L305.2 120.2 L306.7 120.2 L308.1 120.2 L309.6 120.2 L311.0 120.2 L312.5 120.2 L313.9 120.2 L315.4 120.2 L316.8 120.2 L318.2 120.2 L319.7 120.2 L321.1 120.2 L322.6 120.2 L324.0 120.2 L325.5 120.2 L326.9 120.2 L328.4 120.2 L329.8 120.2 L331.2 120.2 L332.7 120.2 L334.1 120.2 L335.6 120.2 L337.0 120.2 L338.5 120.2 L339.9 120.2 L341.4 120.2 L342.8 120.2 L344.2 120.2 L345.7 120.2 L347.1 120.2 L348.6 120.2 L350.0 120.2 L351.5 120.2 L352.9 120.2 L354.4 120.2 L355.8 120.2" fill="none" stroke="#800000" stroke-width="1.2" stroke-linejoin="round"/>
<path d="M67.4 352.5 L67.7 351.0 L68.1 349.4 L68.4 347.9 L68.8 346.4 L69.1 344.8 L69.5 343.3 L69.8 341.8 L70.1 340.4 L70.5 338.9 L70.8 337.4 L71.2 336.0 L71.5 334.5 L71.9 333.1 L72.2 331.7 L72.6 330.3 L72.9 328.9 L73.3 327.5 L73.6 326.1 L74.0 324.7 L74.3 323.4 L74.7 322.0 L75.0 320.7 L75.4 319.3 L75.8 318.0 L76.1 316.7 L76.5 315.4 L76.8 314.1 L77.2 312.8 L77.5 311.6 L77.9 310.3 L78.2 309.0 L78.6 307.8 L78.9 306.6 L79.3 305.3 L79.7 304.1 L80.0 302.9 L80.4 301.7 L80.7 300.5 L81.1 299.3 L81.4 298.1 L81.8 297.0 L82.2 295.8 L82.5 294.7 L82.9 293.5 L83.2 292.4 L83.6 291.3 L83.9 290.1 L84.3 289.0 L84.7 287.9 L85.0 286.8 L85.4 285.8 L85.7 284.7 L86.1 283.6 L86.5 282.5 L86.8 281.5 L87.2 280.4 L87.5 279.4 L87.9 278.4 L88.2 277.3 L88.6 276.3 L89.0 275.3 L89.3 274.3 L89.7 273.3 L90.0 272.3 L90.4 271.3 L90.8 270.4 L91.1 269.4 L91.5 268.4 L91.8 267.5 L92.2 266.5 L92.6 265.6 L92.9 264.7 L93.3 263.8 L93.6 262.8 L94.0 261.9 L94.4 261.0 L94.7 260.1 L95.1 259.2 L95.4 258.3 L95.8 257.5 L96.2 256.6 L96.5 255.7 L96.9 254.9 L97.2 254.0 L97.6 253.1 L98.0 252.3 L98.3 251.5 L98.7 250.6 L99.1 249.8 L99.4 249.0 L99.8 248.2 L100.1 247.4 L100.5 246.6 L100.9 245.8 L101.2 245.0 L101.6 244.2 L101.9 243.4 L102.3 242.7 L102.7 241.9 L103.0 241.1 L103.4 240.4 L103.7 239.6 L104.1 238.9 L104.5 238.1 L104.8 237.4 L105.2 236.7 L105.5 236.0 L105.9 235.2 L106.3 234.5 L106.6 233.8 L107.0 233.1 L107.4 232.4 L107.7 231.7 L108.1 231.0 L108.4 230.3 L108.8 229.7 L109.2 229.0 L109.5 228.3 L109.9 227.7 L110.2 227.0 L111.7 224.4 L113.1 221.9 L114.6 219.5 L116.0 217.1 L117.5 214.8 L118.9 212.6 L120.3 210.4 L121.8 208.3 L123.2 206.2 L124.7 204.2 L126.1 202.3 L127.6 200.4 L129.0 198.6 L130.5 196.8 L131.9 195.1 L133.3 193.4 L134.8 191.8 L136.2 190.2 L137.7 188.7 L139.1 187.2 L140.6 185.7 L142.0 184.3 L143.5 183.0 L144.9 181.6 L146.3 180.3 L147.8 179.1 L149.2 177.9 L150.7 176.7 L152.1 175.5 L153.6 174.4 L155.0 173.3 L156.5 172.3 L157.9 171.3 L159.3 170.3 L160.8 169.3 L162.2 168.4 L163.7 167.5 L165.1 166.6 L166.6 165.7 L168.0 164.9 L169.5 164.1 L170.9 163.3 L172.3 162.5 L173.8 161.8 L175.2 161.0 L176.7 160.3 L178.1 159.7 L179.6 159.0 L181.0 158.4 L182.5 157.7 L183.9 157.1 L185.3 156.5 L186.8 156.0 L188.2 155.4 L189.7 154.9 L191.1 154.3 L192.6 153.8 L194.0 153.3 L195.5 152.9 L196.9 152.4 L198.3 151.9 L199.8 151.5 L201.2 151.1 L202.7 150.6 L204.1 150.2 L205.6 149.8 L207.0 149.5 L208.5 149.1 L209.9 148.7 L211.4 148.4 L212.8 148.0 L214.2 147.7 L215.7 147.4 L217.1 147.1 L218.6 146.8 L220.0 146.5 L221.5 146.2 L222.9 145.9 L224.4 145.7 L225.8 145.4 L227.2 145.1 L228.7 144.9 L230.1 144.7 L231.6 144.4 L233.0 144.2 L234.5 144.0 L235.9 143.8 L237.4 143.6 L238.8 143.4 L240.2 143.2 L241.7 143.0 L243.1 142.8 L244.6 142.6 L246.0 142.4 L247.5 142.3 L248.9 142.1 L250.4 141.9 L251.8 141.8 L253.2 141.6 L254.7 141.5 L256.1 141.3 L257.6 141.2 L259.0 141.1 L260.5 140.9 L261.9 140.8 L263.4 140.7 L264.8 140.6 L266.2 140.4 L267.7 140.3 L269.1 140.2 L270.6 140.1 L272.0 140.0 L273.5 139.9 L274.9 139.8 L276.4 139.7 L277.8 139.6 L279.2 139.5 L280.7 139.5 L282.1 139.4 L283.6 139.3 L285.0 139.2 L286.5 139.1 L287.9 139.1 L289.4 139.0 L290.8 138.9 L292.2 138.8 L293.7 138.8 L295.1 138.7 L296.6 138.6 L298.0 138.6 L299.5 138.5 L300.9 138.5 L302.4 138.4 L303.8 138.4 L305.2 138.3 L306.7 138.3 L308.1 138.2 L309.6 138.2 L311.0 138.1 L312.5 138.1 L313.9 138.0 L315.4 138.0 L316.8 137.9 L318.2 137.9 L319.7 137.9 L321.1 137.8 L322.6 137.8 L324.0 137.7 L325.5 137.7 L326.9 137.7 L328.4 137.6 L329.8 137.6 L331.2 137.6 L332.7 137.5 L334.1 137.5 L335.6 137.5 L337.0 137.5 L338.5 137.4 L339.9 137.4 L341.4 137.4 L342.8 137.3 L344.2 137.3 L345.7 137.3 L347.1 137.3 L348.6 137.3 L350.0 137.2 L351.5 137.2 L352.9 137.2 L354.4 137.2 L355.8 137.2" fill="none" stroke="#ff00ff" stroke-width="1.2" stroke-linejoin="round"/>
<path d="M67.4 352.5 L67.7 351.2 L68.1 349.9 L68.4 348.6 L68.8 347.3 L69.1 346.0 L69.5 344.7 L69.8 343.4 L70.1 342.2 L70.5 340.9 L70.8 339.7 L71.2 338.4 L71.5 337.2 L71.9 335.9 L72.2 334.7 L72.6 333.5 L72.9 332.3 L73.3 331.1 L73.6 329.9 L74.0 328.7 L74.3 327.5 L74.7 326.4 L75.0 325.2 L75.4 324.0 L75.8 322.9 L76.1 321.7 L76.5 320.6 L76.8 319.5 L77.2 318.3 L77.5 317.2 L77.9 316.1 L78.2 315.0 L78.6 313.9 L78.9 312.8 L79.3 311.7 L79.7 310.6 L80.0 309.6 L80.4 308.5 L80.7 307.4 L81.1 306.4 L81.4 305.3 L81.8 304.3 L82.2 303.3 L82.5 302.2 L82.9 301.2 L83.2 300.2 L83.6 299.2 L83.9 298.2 L84.3 297.2 L84.7 296.2 L85.0 295.2 L85.4 294.2 L85.7 293.2 L86.1 292.3 L86.5 291.3 L86.8 290.3 L87.2 289.4 L87.5 288.4 L87.9 287.5 L88.2 286.6 L88.6 285.6 L89.0 284.7 L89.3 283.8 L89.7 282.9 L90.0 282.0 L90.4 281.1 L90.8 280.2 L91.1 279.3 L91.5 278.4 L91.8 277.5 L92.2 276.6 L92.6 275.8 L92.9 274.9 L93.3 274.0 L93.6 273.2 L94.0 272.3 L94.4 271.5 L94.7 270.6 L95.1 269.8 L95.4 269.0 L95.8 268.1 L96.2 267.3 L96.5 266.5 L96.9 265.7 L97.2 264.9 L97.6 264.1 L98.0 263.3 L98.3 262.5 L98.7 261.7 L99.1 260.9 L99.4 260.1 L99.8 259.4 L100.1 258.6 L100.5 257.8 L100.9 257.1 L101.2 256.3 L101.6 255.6 L101.9 254.8 L102.3 254.1 L102.7 253.3 L103.0 252.6 L103.4 251.9 L103.7 251.2 L104.1 250.4 L104.5 249.7 L104.8 249.0 L105.2 248.3 L105.5 247.6 L105.9 246.9 L106.3 246.2 L106.6 245.5 L107.0 244.8 L107.4 244.1 L107.7 243.5 L108.1 242.8 L108.4 242.1 L108.8 241.5 L109.2 240.8 L109.5 240.1 L109.9 239.5 L110.2 238.8 L111.7 236.3 L113.1 233.8 L114.6 231.3 L116.0 228.9 L117.5 226.6 L118.9 224.3 L120.3 222.1 L121.8 219.9 L123.2 217.8 L124.7 215.7 L126.1 213.7 L127.6 211.7 L129.0 209.8 L130.5 207.9 L131.9 206.1 L133.3 204.3 L134.8 202.5 L136.2 200.8 L137.7 199.1 L139.1 197.5 L140.6 195.9 L142.0 194.3 L143.5 192.8 L144.9 191.3 L146.3 189.9 L147.8 188.5 L149.2 187.1 L150.7 185.7 L152.1 184.4 L153.6 183.1 L155.0 181.9 L156.5 180.7 L157.9 179.5 L159.3 178.3 L160.8 177.1 L162.2 176.0 L163.7 174.9 L165.1 173.9 L166.6 172.8 L168.0 171.8 L169.5 170.8 L170.9 169.9 L172.3 168.9 L173.8 168.0 L175.2 167.1 L176.7 166.2 L178.1 165.4 L179.6 164.5 L181.0 163.7 L182.5 162.9 L183.9 162.1 L185.3 161.4 L186.8 160.6 L188.2 159.9 L189.7 159.2 L191.1 158.5 L192.6 157.8 L194.0 157.2 L195.5 156.5 L196.9 155.9 L198.3 155.3 L199.8 154.7 L201.2 154.1 L202.7 153.5 L204.1 152.9 L205.6 152.4 L207.0 151.9 L208.5 151.3 L209.9 150.8 L211.4 150.3 L212.8 149.9 L214.2 149.4 L215.7 148.9 L217.1 148.5 L218.6 148.0 L220.0 147.6 L221.5 147.2 L222.9 146.8 L224.4 146.4 L225.8 146.0 L227.2 145.6 L228.7 145.2 L230.1 144.8 L231.6 144.5 L233.0 144.1 L234.5 143.8 L235.9 143.5 L237.4 143.2 L238.8 142.8 L240.2 142.5 L241.7 142.2 L243.1 141.9 L244.6 141.6 L246.0 141.4 L247.5 141.1 L248.9 140.8 L250.4 140.6 L251.8 140.3 L253.2 140.1 L254.7 139.8 L256.1 139.6 L257.6 139.3 L259.0 139.1 L260.5 138.9 L261.9 138.7 L263.4 138.5 L264.8 138.3 L266.2 138.1 L267.7 137.9 L269.1 137.7 L270.6 137.5 L272.0 137.3 L273.5 137.1 L274.9 137.0 L276.4 136.8 L277.8 136.6 L279.2 136.5 L280.7 136.3 L282.1 136.1 L283.6 136.0 L285.0 135.8 L286.5 135.7 L287.9 135.6 L289.4 135.4 L290.8 135.3 L292.2 135.2 L293.7 135.0 L295.1 134.9 L296.6 134.8 L298.0 134.7 L299.5 134.5 L300.9 134.4 L302.4 134.3 L303.8 134.2 L305.2 134.1 L306.7 134.0 L308.1 133.9 L309.6 133.8 L311.0 133.7 L312.5 133.6 L313.9 133.5 L315.4 133.4 L316.8 133.3 L318.2 133.3 L319.7 133.2 L321.1 133.1 L322.6 133.0 L324.0 132.9 L325.5 132.9 L326.9 132.8 L328.4 132.7 L329.8 132.6 L331.2 132.6 L332.7 132.5 L334.1 132.4 L335.6 132.4 L337.0 132.3 L338.5 132.3 L339.9 132.2 L341.4 132.1 L342.8 132.1 L344.2 132.0 L345.7 132.0 L347.1 131.9 L348.6 131.9 L350.0 131.8 L351.5 131.8 L352.9 131.7 L354.4 131.7 L355.8 131.6" fill="none" stroke="#008000" stroke-width="1.2" stroke-linejoin="round"/>
<path d="M67.4 352.5 L67.7 304.7 L68.1 265.2 L68.4 232.5 L68.8 205.5 L69.1 183.1 L69.5 164.6 L69.8 149.4 L70.1 136.7 L70.5 126.3 L70.8 117.6 L71.2 110.5 L71.5 104.5 L71.9 99.7 L72.2 95.6 L72.6 92.3 L72.9 89.5 L73.3 87.2 L73.6 85.3 L74.0 83.8 L74.3 82.5 L74.7 81.4 L75.0 80.5 L75.4 79.8 L75.8 79.2 L76.1 78.7 L76.5 78.3 L76.8 77.9 L77.2 77.6 L77.5 77.4 L77.9 77.2 L78.2 77.1 L78.6 76.9 L78.9 76.8 L79.3 76.7 L79.7 76.6 L80.0 76.6 L80.4 76.5 L80.7 76.5 L81.1 76.5 L81.4 76.4 L81.8 76.4 L82.2 76.4 L82.5 76.4 L82.9 76.4 L83.2 76.3 L83.6 76.3 L83.9 76.3 L84.3 76.3 L84.7 76.3 L85.0 76.3 L85.4 76.3 L85.7 76.3 L86.1 76.3 L86.5 76.3 L86.8 76.3 L87.2 76.3 L87.5 76.3 L87.9 76.3 L88.2 76.3 L88.6 76.3 L89.0 76.3 L89.3 76.3 L89.7 76.3 L90.0 76.3 L90.4 76.3 L90.8 76.3 L91.1 76.3 L91.5 76.3 L91.8 76.3 L92.2 76.3 L92.6 76.3 L92.9 76.3 L93.3 76.3 L93.6 76.3 L94.0 76.3 L94.4 76.3 L94.7 76.3 L95.1 76.3 L95.4 76.3 L95.8 76.3 L96.2 76.3 L96.5 76.3 L96.9 76.3 L97.2 76.3 L97.6 76.3 L98.0 76.3 L98.3 76.3 L98.7 76.3 L99.1 76.3 L99.4 76.3 L99.8 76.3 L100.1 76.3 L100.5 76.3 L100.9 76.3 L101.2 76.3 L101.6 76.3 L101.9 76.3 L102.3 76.3 L102.7 76.3 L103.0 76.3 L103.4 76.3 L103.7 76.3 L104.1 76.3 L104.5 76.3 L104.8 76.3 L105.2 76.3 L105.5 76.3 L105.9 76.3 L106.3 76.3 L106.6 76.3 L107.0 76.3 L107.4 76.3 L107.7 76.3 L108.1 76.3 L108.4 76.3 L108.8 76.3 L109.2 76.3 L109.5 76.3 L109.9 76.3 L110.2 76.3 L111.7 76.3 L113.1 76.3 L114.6 76.3 L116.0 76.3 L117.5 76.3 L118.9 76.3 L120.3 76.3 L121.8 76.3 L123.2 76.3 L124.7 76.3 L126.1 76.3 L127.6 76.3 L129.0 76.3 L130.5 76.3 L131.9 76.3 L133.3 76.3 L134.8 76.3 L136.2 76.3 L137.7 76.3 L139.1 76.3 L140.6 76.3 L142.0 76.3 L143.5 76.3 L144.9 76.3 L146.3 76.3 L147.8 76.3 L149.2 76.3 L150.7 76.3 L152.1 76.3 L153.6 76.3 L155.0 76.3 L156.5 76.3 L157.9 76.3 L159.3 76.3 L160.8 76.3 L162.2 76.3 L163.7 76.3 L165.1 76.3 L166.6 76.3 L168.0 76.3 L169.5 76.3 L170.9 76.3 L172.3 76.3 L173.8 76.3 L175.2 76.3 L176.7 76.3 L178.1 76.3 L179.6 76.3 L181.0 76.3 L182.5 76.3 L183.9 76.3 L185.3 76.3 L186.8 76.3 L188.2 76.3 L189.7 76.3 L191.1 76.3 L192.6 76.3 L194.0 76.3 L195.5 76.3 L196.9 76.3 L198.3 76.3 L199.8 76.3 L201.2 76.3 L202.7 76.3 L204.1 76.3 L205.6 76.3 L207.0 76.3 L208.5 76.3 L209.9 76.3 L211.4 76.3 L212.8 76.3 L214.2 76.3 L215.7 76.3 L217.1 76.3 L218.6 76.3 L220.0 76.3 L221.5 76.3 L222.9 76.3 L224.4 76.3 L225.8 76.3 L227.2 76.3 L228.7 76.3 L230.1 76.3 L231.6 76.3 L233.0 76.3 L234.5 76.3 L235.9 76.3 L237.4 76.3 L238.8 76.3 L240.2 76.3 L241.7 76.3 L243.1 76.3 L244.6 76.3 L246.0 76.3 L247.5 76.3 L248.9 76.3 L250.4 76.3 L251.8 76.3 L253.2 76.3 L254.7 76.3 L256.1 76.3 L257.6 76.3 L259.0 76.3 L260.5 76.3 L261.9 76.3 L263.4 76.3 L264.8 76.3 L266.2 76.3 L267.7 76.3 L269.1 76.3 L270.6 76.3 L272.0 76.3 L273.5 76.3 L274.9 76.3 L276.4 76.3 L277.8 76.3 L279.2 76.3 L280.7 76.3 L282.1 76.3 L283.6 76.3 L285.0 76.3 L286.5 76.3 L287.9 76.3 L289.4 76.3 L290.8 76.3 L292.2 76.3 L293.7 76.3 L295.1 76.3 L296.6 76.3 L298.0 76.3 L299.5 76.3 L300.9 76.3 L302.4 76.3 L303.8 76.3 L305.2 76.3 L306.7 76.3 L308.1 76.3 L309.6 76.3 L311.0 76.3 L312.5 76.3 L313.9 76.3 L315.4 76.3 L316.8 76.3 L318.2 76.3 L319.7 76.3 L321.1 76.3 L322.6 76.3 L324.0 76.3 L325.5 76.3 L326.9 76.3 L328.4 76.3 L329.8 76.3 L331.2 76.3 L332.7 76.3 L334.1 76.3 L335.6 76.3 L337.0 76.3 L338.5 76.3 L339.9 76.3 L341.4 76.3 L342.8 76.3 L344.2 76.3 L345.7 76.3 L347.1 76.3 L348.6 76.3 L350.0 76.3 L351.5 76.3 L352.9 76.3 L354.4 76.3 L355.8 76.3" fill="none" stroke="#6868ff" stroke-width="1.2" stroke-linejoin="round"/>
<path d="M67.4 352.5 L67.7 321.0 L68.1 293.2 L68.4 268.6 L68.8 246.9 L69.1 227.8 L69.5 210.9 L69.8 196.0 L70.1 182.9 L70.5 171.3 L70.8 161.0 L71.2 152.0 L71.5 144.0 L71.9 137.0 L72.2 130.8 L72.6 125.3 L72.9 120.5 L73.3 116.2 L73.6 112.4 L74.0 109.1 L74.3 106.2 L74.7 103.6 L75.0 101.3 L75.4 99.3 L75.8 97.5 L76.1 95.9 L76.5 94.5 L76.8 93.3 L77.2 92.2 L77.5 91.3 L77.9 90.4 L78.2 89.7 L78.6 89.1 L78.9 88.5 L79.3 88.0 L79.7 87.5 L80.0 87.1 L80.4 86.8 L80.7 86.5 L81.1 86.2 L81.4 85.9 L81.8 85.7 L82.2 85.5 L82.5 85.4 L82.9 85.2 L83.2 85.1 L83.6 85.0 L83.9 84.9 L84.3 84.8 L84.7 84.7 L85.0 84.7 L85.4 84.6 L85.7 84.5 L86.1 84.5 L86.5 84.5 L86.8 84.4 L87.2 84.4 L87.5 84.4 L87.9 84.3 L88.2 84.3 L88.6 84.3 L89.0 84.3 L89.3 84.3 L89.7 84.2 L90.0 84.2 L90.4 84.2 L90.8 84.2 L91.1 84.2 L91.5 84.2 L91.8 84.2 L92.2 84.2 L92.6 84.2 L92.9 84.2 L93.3 84.2 L93.6 84.2 L94.0 84.2 L94.4 84.2 L94.7 84.2 L95.1 84.2 L95.4 84.1 L95.8 84.1 L96.2 84.1 L96.5 84.1 L96.9 84.1 L97.2 84.1 L97.6 84.1 L98.0 84.1 L98.3 84.1 L98.7 84.1 L99.1 84.1 L99.4 84.1 L99.8 84.1 L100.1 84.1 L100.5 84.1 L100.9 84.1 L101.2 84.1 L101.6 84.1 L101.9 84.1 L102.3 84.1 L102.7 84.1 L103.0 84.1 L103.4 84.1 L103.7 84.1 L104.1 84.1 L104.5 84.1 L104.8 84.1 L105.2 84.1 L105.5 84.1 L105.9 84.1 L106.3 84.1 L106.6 84.1 L107.0 84.1 L107.4 84.1 L107.7 84.1 L108.1 84.1 L108.4 84.1 L108.8 84.1 L109.2 84.1 L109.5 84.1 L109.9 84.1 L110.2 84.1 L111.7 84.1 L113.1 84.1 L114.6 84.1 L116.0 84.1 L117.5 84.1 L118.9 84.1 L120.3 84.1 L121.8 84.1 L123.2 84.1 L124.7 84.1 L126.1 84.1 L127.6 84.1 L129.0 84.1 L130.5 84.1 L131.9 84.1 L133.3 84.1 L134.8 84.1 L136.2 84.1 L137.7 84.1 L139.1 84.1 L140.6 84.1 L142.0 84.1 L143.5 84.1 L144.9 84.1 L146.3 84.1 L147.8 84.1 L149.2 84.1 L150.7 84.1 L152.1 84.1 L153.6 84.1 L155.0 84.1 L156.5 84.1 L157.9 84.1 L159.3 84.1 L160.8 84.1 L162.2 84.1 L163.7 84.1 L165.1 84.1 L166.6 84.1 L168.0 84.1 L169.5 84.1 L170.9 84.1 L172.3 84.1 L173.8 84.1 L175.2 84.1 L176.7 84.1 L178.1 84.1 L179.6 84.1 L181.0 84.1 L182.5 84.1 L183.9 84.1 L185.3 84.1 L186.8 84.1 L188.2 84.1 L189.7 84.1 L191.1 84.1 L192.6 84.1 L194.0 84.1 L195.5 84.1 L196.9 84.1 L198.3 84.1 L199.8 84.1 L201.2 84.1 L202.7 84.1 L204.1 84.1 L205.6 84.1 L207.0 84.1 L208.5 84.1 L209.9 84.1 L211.4 84.1 L212.8 84.1 L214.2 84.1 L215.7 84.1 L217.1 84.1 L218.6 84.1 L220.0 84.1 L221.5 84.1 L222.9 84.1 L224.4 84.1 L225.8 84.1 L227.2 84.1 L228.7 84.1 L230.1 84.1 L231.6 84.1 L233.0 84.1 L234.5 84.1 L235.9 84.1 L237.4 84.1 L238.8 84.1 L240.2 84.1 L241.7 84.1 L243.1 84.1 L244.6 84.1 L246.0 84.1 L247.5 84.1 L248.9 84.1 L250.4 84.1 L251.8 84.1 L253.2 84.1 L254.7 84.1 L256.1 84.1 L257.6 84.1 L259.0 84.1 L260.5 84.1 L261.9 84.1 L263.4 84.1 L264.8 84.1 L266.2 84.1 L267.7 84.1 L269.1 84.1 L270.6 84.1 L272.0 84.1 L273.5 84.1 L274.9 84.1 L276.4 84.1 L277.8 84.1 L279.2 84.1 L280.7 84.1 L282.1 84.1 L283.6 84.1 L285.0 84.1 L286.5 84.1 L287.9 84.1 L289.4 84.1 L290.8 84.1 L292.2 84.1 L293.7 84.1 L295.1 84.1 L296.6 84.1 L298.0 84.1 L299.5 84.1 L300.9 84.1 L302.4 84.1 L303.8 84.1 L305.2 84.1 L306.7 84.1 L308.1 84.1 L309.6 84.1 L311.0 84.1 L312.5 84.1 L313.9 84.1 L315.4 84.1 L316.8 84.1 L318.2 84.1 L319.7 84.1 L321.1 84.1 L322.6 84.1 L324.0 84.1 L325.5 84.1 L326.9 84.1 L328.4 84.1 L329.8 84.1 L331.2 84.1 L332.7 84.1 L334.1 84.1 L335.6 84.1 L337.0 84.1 L338.5 84.1 L339.9 84.1 L341.4 84.1 L342.8 84.1 L344.2 84.1 L345.7 84.1 L347.1 84.1 L348.6 84.1 L350.0 84.1 L351.5 84.1 L352.9 84.1 L354.4 84.1 L355.8 84.1" fill="none" stroke="#000080" stroke-width="1.2" stroke-linejoin="round"/>
<text x="390.2" y="458.2" font-family="Liberation Sans, Arial, sans-serif" font-weight="bold" font-size="21.3">time (s)</text>
<text x="144.3" y="20" font-family="Liberation Sans, Arial, sans-serif" font-weight="bold" font-size="21.3"><tspan font-style="italic">S. aureus</tspan> PSMs</text>
<text transform="translate(22.0 399.8) rotate(-90)" font-family="Liberation Sans, Arial, sans-serif" font-weight="bold" font-size="21.6">fluorescence (arbitrary units, x 10<tspan font-size="16" dy="-7.4">6</tspan><tspan dy="7.4">)</tspan></text>
<text x="467.5" y="46.0" font-family="Liberation Sans, Arial, sans-serif" font-weight="bold" font-size="21.3">K<tspan dx="-1.2"> (s</tspan><tspan font-size="16" dy="-7.2" dx="0.4">-1</tspan><tspan dy="7.2" dx="0.6">)</tspan></text>
<path d="M368.2 71.6H378.8" stroke="#6868ff" stroke-width="1.15"/><circle cx="373.5" cy="71.6" r="3.1" fill="#6868ff"/>
<text x="387.4" y="76.6" font-family="Liberation Sans, Arial, sans-serif" font-weight="bold" font-size="17.8">PSM<tspan font-family="Liberation Serif, Times New Roman, serif" font-weight="normal" font-size="19.400000000000002">β</tspan>1</text>
<text x="473.2" y="76.6" font-family="Liberation Sans, Arial, sans-serif" font-weight="bold" font-size="17.8">10.12</text>
<path d="M368.2 88.5H378.8" stroke="#000080" stroke-width="1.15"/><circle cx="373.5" cy="88.5" r="3.1" fill="#000080"/>
<text x="387.4" y="94.7" font-family="Liberation Sans, Arial, sans-serif" font-weight="bold" font-size="17.8">PSM<tspan font-family="Liberation Serif, Times New Roman, serif" font-weight="normal" font-size="19.400000000000002">β2</tspan></text>
<text x="473.2" y="94.7" font-family="Liberation Sans, Arial, sans-serif" font-weight="bold" font-size="17.8">5.514</text>
<path d="M368.2 107.8H378.8" stroke="#ffc966" stroke-width="1.15"/><circle cx="373.5" cy="107.8" r="3.1" fill="#ffc966"/>
<text x="387.4" y="112.9" font-family="Liberation Sans, Arial, sans-serif" font-weight="bold" font-size="17.8">PSM<tspan font-family="Liberation Serif, Times New Roman, serif" font-weight="normal" font-size="19.400000000000002">α</tspan>1</text>
<text x="473.2" y="112.9" font-family="Liberation Sans, Arial, sans-serif" font-weight="bold" font-size="17.8">3.086</text>
<path d="M368.2 126.4H378.8" stroke="#800000" stroke-width="1.15"/><circle cx="373.5" cy="126.4" r="3.1" fill="#800000"/>
<text x="387.4" y="131.2" font-family="Liberation Sans, Arial, sans-serif" font-weight="bold" font-size="17.8">PSM<tspan font-family="Liberation Serif, Times New Roman, serif" font-weight="normal" font-size="19.400000000000002">α4</tspan></text>
<text x="473.2" y="131.2" font-family="Liberation Sans, Arial, sans-serif" font-weight="bold" font-size="17.8">0.3869</text>
<path d="M368.2 143.4H378.8" stroke="#ff00ff" stroke-width="1.15"/><circle cx="373.5" cy="143.4" r="3.1" fill="#ff00ff"/>
<text x="387.4" y="149.4" font-family="Liberation Sans, Arial, sans-serif" font-weight="bold" font-size="17.8">PSM-mec</text>
<text x="473.2" y="149.4" font-family="Liberation Sans, Arial, sans-serif" font-weight="bold" font-size="17.8">0.2852</text>
<path d="M368.2 162.6H378.8" stroke="#008000" stroke-width="1.15"/><circle cx="373.5" cy="162.6" r="3.1" fill="#008000"/>
<text x="387.4" y="168.2" font-family="Liberation Sans, Arial, sans-serif" font-weight="bold" font-size="17.8"><tspan font-family="Liberation Serif, Times New Roman, serif" font-weight="normal" font-size="19.400000000000002">δ</tspan>-toxin</text>
<text x="473.2" y="168.2" font-family="Liberation Sans, Arial, sans-serif" font-weight="bold" font-size="17.8">0.2529</text>
<path d="M368.2 181.3H378.8" stroke="#ff0000" stroke-width="1.15"/><circle cx="373.5" cy="181.3" r="3.1" fill="#ff0000"/>
<text x="387.4" y="187.3" font-family="Liberation Sans, Arial, sans-serif" font-weight="bold" font-size="17.8">PSM<tspan font-family="Liberation Serif, Times New Roman, serif" font-weight="normal" font-size="19.400000000000002">α3</tspan></text>
<text x="473.2" y="187.3" font-family="Liberation Sans, Arial, sans-serif" font-weight="bold" font-size="17.8">0.9233</text>
<path d="M368.2 201.0H378.8" stroke="#ff8000" stroke-width="1.15"/><circle cx="373.5" cy="201.0" r="3.1" fill="#ff8000"/>
<text x="387.4" y="206.7" font-family="Liberation Sans, Arial, sans-serif" font-weight="bold" font-size="17.8">PSM<tspan font-family="Liberation Serif, Times New Roman, serif" font-weight="normal" font-size="19.400000000000002">α2</tspan></text>
<text x="473.2" y="206.7" font-family="Liberation Sans, Arial, sans-serif" font-weight="bold" font-size="17.8">1.944</text>
<path d="M69.3 511.4V968.5M68.7 965.7H356.4M65.9 874.9H69.3M65.9 784.1H69.3M65.9 693.4H69.3M65.9 602.6H69.3M65.9 511.8H69.3M140.9 965.7V968.7M212.6 965.7V968.7M284.2 965.7V968.7M355.8 965.7V968.7" stroke="#404040" stroke-width="1.45" fill="none"/>
<text x="60.6" y="519.1" text-anchor="end" font-family="Liberation Sans, Arial, sans-serif" font-weight="bold" font-size="21.3">10</text>
<text x="60.6" y="609.4" text-anchor="end" font-family="Liberation Sans, Arial, sans-serif" font-weight="bold" font-size="21.3">8</text>
<text x="60.6" y="699.4" text-anchor="end" font-family="Liberation Sans, Arial, sans-serif" font-weight="bold" font-size="21.3">6</text>
<text x="60.6" y="789.4" text-anchor="end" font-family="Liberation Sans, Arial, sans-serif" font-weight="bold" font-size="21.3">4</text>
<text x="60.6" y="879.4" text-anchor="end" font-family="Liberation Sans, Arial, sans-serif" font-weight="bold" font-size="21.3">2</text>
<text x="60.6" y="969.3" text-anchor="end" font-family="Liberation Sans, Arial, sans-serif" font-weight="bold" font-size="21.3">0</text>
<text x="70.8" y="991.6" text-anchor="middle" font-family="Liberation Sans, Arial, sans-serif" font-weight="bold" font-size="21.3">0</text>
<text x="130.9" y="991.6" text-anchor="middle" font-family="Liberation Sans, Arial, sans-serif" font-weight="bold" font-size="21.3">50</text>
<text x="203.5" y="991.6" text-anchor="middle" font-family="Liberation Sans, Arial, sans-serif" font-weight="bold" font-size="21.3">100</text>
<text x="281.6" y="991.6" text-anchor="middle" font-family="Liberation Sans, Arial, sans-serif" font-weight="bold" font-size="21.3">150</text>
<text x="360.1" y="991.6" text-anchor="middle" font-family="Liberation Sans, Arial, sans-serif" font-weight="bold" font-size="21.3">200</text>
<g><circle cx="83.6" cy="845.1" r="3.2" fill="#ff0080"/><circle cx="98.0" cy="836.7" r="3.2" fill="#ff0080"/><circle cx="112.3" cy="830.7" r="3.2" fill="#ff0080"/><circle cx="126.6" cy="827.1" r="3.2" fill="#ff0080"/><circle cx="140.9" cy="823.2" r="3.2" fill="#ff0080"/><circle cx="155.2" cy="820.5" r="3.2" fill="#ff0080"/><circle cx="169.6" cy="818.1" r="3.2" fill="#ff0080"/><circle cx="183.9" cy="816.0" r="3.2" fill="#ff0080"/><circle cx="198.2" cy="814.2" r="3.2" fill="#ff0080"/><circle cx="212.6" cy="812.1" r="3.2" fill="#ff0080"/><circle cx="226.9" cy="810.0" r="3.2" fill="#ff0080"/><circle cx="241.2" cy="808.5" r="3.2" fill="#ff0080"/><circle cx="255.5" cy="806.7" r="3.2" fill="#ff0080"/><circle cx="269.9" cy="805.2" r="3.2" fill="#ff0080"/><circle cx="284.2" cy="803.7" r="3.2" fill="#ff0080"/><circle cx="298.5" cy="802.5" r="3.2" fill="#ff0080"/><circle cx="312.8" cy="801.3" r="3.2" fill="#ff0080"/><circle cx="327.2" cy="800.0" r="3.2" fill="#ff0080"/><circle cx="341.5" cy="798.3" r="3.2" fill="#ff0080"/><circle cx="355.8" cy="797.0" r="3.2" fill="#ff0080"/></g>
<g><path d="M83.6 805.8V826.2M80.4 805.8H86.8M80.4 826.2H86.8" stroke="#ff0000" stroke-width="1.25" fill="none"/><circle cx="83.6" cy="816.0" r="3.2" fill="#ff0000"/><path d="M98.0 747.1V770.9M94.8 747.1H101.2M94.8 770.9H101.2" stroke="#ff0000" stroke-width="1.25" fill="none"/><circle cx="98.0" cy="759.0" r="3.2" fill="#ff0000"/><path d="M112.3 700.4V724.2M109.1 700.4H115.5M109.1 724.2H115.5" stroke="#ff0000" stroke-width="1.25" fill="none"/><circle cx="112.3" cy="712.3" r="3.2" fill="#ff0000"/><path d="M126.6 668.1V690.1M123.4 668.1H129.8M123.4 690.1H129.8" stroke="#ff0000" stroke-width="1.25" fill="none"/><circle cx="126.6" cy="679.1" r="3.2" fill="#ff0000"/><path d="M140.9 647.2V666.0M137.7 647.2H144.1M137.7 666.0H144.1" stroke="#ff0000" stroke-width="1.25" fill="none"/><circle cx="140.9" cy="656.6" r="3.2" fill="#ff0000"/><path d="M155.2 633.4V649.8M152.1 633.4H158.4M152.1 649.8H158.4" stroke="#ff0000" stroke-width="1.25" fill="none"/><circle cx="155.2" cy="641.6" r="3.2" fill="#ff0000"/><path d="M169.6 625.0V638.2M166.4 625.0H172.8M166.4 638.2H172.8" stroke="#ff0000" stroke-width="1.25" fill="none"/><circle cx="169.6" cy="631.6" r="3.2" fill="#ff0000"/><path d="M183.9 619.8V631.0M180.7 619.8H187.1M180.7 631.0H187.1" stroke="#ff0000" stroke-width="1.25" fill="none"/><circle cx="183.9" cy="625.4" r="3.2" fill="#ff0000"/><path d="M198.2 613.6V625.2M195.0 613.6H201.4M195.0 625.2H201.4" stroke="#ff0000" stroke-width="1.25" fill="none"/><circle cx="198.2" cy="619.4" r="3.2" fill="#ff0000"/><path d="M212.6 611.0V621.0M209.4 611.0H215.8M209.4 621.0H215.8" stroke="#ff0000" stroke-width="1.25" fill="none"/><circle cx="212.6" cy="616.0" r="3.2" fill="#ff0000"/><path d="M226.9 607.3V617.1M223.7 607.3H230.1M223.7 617.1H230.1" stroke="#ff0000" stroke-width="1.25" fill="none"/><circle cx="226.9" cy="612.2" r="3.2" fill="#ff0000"/><path d="M241.2 606.2V614.6M238.0 606.2H244.4M238.0 614.6H244.4" stroke="#ff0000" stroke-width="1.25" fill="none"/><circle cx="241.2" cy="610.4" r="3.2" fill="#ff0000"/><path d="M255.5 604.9V612.9M252.3 604.9H258.7M252.3 612.9H258.7" stroke="#ff0000" stroke-width="1.25" fill="none"/><circle cx="255.5" cy="608.9" r="3.2" fill="#ff0000"/><path d="M269.9 603.7V611.3M266.7 603.7H273.1M266.7 611.3H273.1" stroke="#ff0000" stroke-width="1.25" fill="none"/><circle cx="269.9" cy="607.5" r="3.2" fill="#ff0000"/><path d="M284.2 603.2V610.8M281.0 603.2H287.4M281.0 610.8H287.4" stroke="#ff0000" stroke-width="1.25" fill="none"/><circle cx="284.2" cy="607.0" r="3.2" fill="#ff0000"/><path d="M298.5 603.2V610.8M295.3 603.2H301.7M295.3 610.8H301.7" stroke="#ff0000" stroke-width="1.25" fill="none"/><circle cx="298.5" cy="607.0" r="3.2" fill="#ff0000"/><path d="M312.8 602.8V610.4M309.6 602.8H316.0M309.6 610.4H316.0" stroke="#ff0000" stroke-width="1.25" fill="none"/><circle cx="312.8" cy="606.6" r="3.2" fill="#ff0000"/><path d="M327.2 602.4V610.0M324.0 602.4H330.4M324.0 610.0H330.4" stroke="#ff0000" stroke-width="1.25" fill="none"/><circle cx="327.2" cy="606.2" r="3.2" fill="#ff0000"/><path d="M341.5 602.0V609.6M338.3 602.0H344.7M338.3 609.6H344.7" stroke="#ff0000" stroke-width="1.25" fill="none"/><circle cx="341.5" cy="605.8" r="3.2" fill="#ff0000"/><path d="M355.8 599.7V608.3M352.6 599.7H359.0M352.6 608.3H359.0" stroke="#ff0000" stroke-width="1.25" fill="none"/><circle cx="355.8" cy="604.0" r="3.2" fill="#ff0000"/></g>
<g><circle cx="83.6" cy="771.0" r="3.2" fill="#000000"/><circle cx="98.0" cy="708.2" r="3.2" fill="#000000"/><circle cx="112.3" cy="672.0" r="3.2" fill="#000000"/><circle cx="126.6" cy="651.3" r="3.2" fill="#000000"/><circle cx="140.9" cy="638.8" r="3.2" fill="#000000"/><circle cx="155.2" cy="631.6" r="3.2" fill="#000000"/><circle cx="169.6" cy="626.3" r="3.2" fill="#000000"/><circle cx="183.9" cy="622.2" r="3.2" fill="#000000"/><circle cx="198.2" cy="619.2" r="3.2" fill="#000000"/><circle cx="212.6" cy="616.0" r="3.2" fill="#000000"/><circle cx="226.9" cy="613.5" r="3.2" fill="#000000"/><circle cx="241.2" cy="612.4" r="3.2" fill="#000000"/><circle cx="255.5" cy="612.2" r="3.2" fill="#000000"/><circle cx="269.9" cy="612.2" r="3.2" fill="#000000"/><circle cx="284.2" cy="612.2" r="3.2" fill="#000000"/><circle cx="298.5" cy="612.2" r="3.2" fill="#000000"/><circle cx="312.8" cy="612.2" r="3.2" fill="#000000"/><circle cx="327.2" cy="612.2" r="3.2" fill="#000000"/><circle cx="341.5" cy="612.2" r="3.2" fill="#000000"/><circle cx="355.8" cy="612.2" r="3.2" fill="#000000"/></g>
<g><path d="M83.6 708.2V758.8M80.4 708.2H86.8M80.4 758.8H86.8" stroke="#0000ff" stroke-width="1.25" fill="none"/><circle cx="83.6" cy="733.5" r="3.2" fill="#0000ff"/><path d="M98.0 654.0V693.0M94.8 654.0H101.2M94.8 693.0H101.2" stroke="#0000ff" stroke-width="1.25" fill="none"/><circle cx="98.0" cy="673.5" r="3.2" fill="#0000ff"/><path d="M112.3 627.3V655.9M109.1 627.3H115.5M109.1 655.9H115.5" stroke="#0000ff" stroke-width="1.25" fill="none"/><circle cx="112.3" cy="641.6" r="3.2" fill="#0000ff"/><path d="M126.6 613.4V635.8M123.4 613.4H129.8M123.4 635.8H129.8" stroke="#0000ff" stroke-width="1.25" fill="none"/><circle cx="126.6" cy="624.6" r="3.2" fill="#0000ff"/><path d="M140.9 605.6V623.8M137.7 605.6H144.1M137.7 623.8H144.1" stroke="#0000ff" stroke-width="1.25" fill="none"/><circle cx="140.9" cy="614.7" r="3.2" fill="#0000ff"/><path d="M155.2 600.1V615.7M152.1 600.1H158.4M152.1 615.7H158.4" stroke="#0000ff" stroke-width="1.25" fill="none"/><circle cx="155.2" cy="607.9" r="3.2" fill="#0000ff"/><path d="M169.6 597.6V611.2M166.4 597.6H172.8M166.4 611.2H172.8" stroke="#0000ff" stroke-width="1.25" fill="none"/><circle cx="169.6" cy="604.4" r="3.2" fill="#0000ff"/><path d="M183.9 595.9V607.9M180.7 595.9H187.1M180.7 607.9H187.1" stroke="#0000ff" stroke-width="1.25" fill="none"/><circle cx="183.9" cy="601.9" r="3.2" fill="#0000ff"/><path d="M198.2 595.2V605.6M195.0 595.2H201.4M195.0 605.6H201.4" stroke="#0000ff" stroke-width="1.25" fill="none"/><circle cx="198.2" cy="600.4" r="3.2" fill="#0000ff"/><path d="M212.6 594.2V604.0M209.4 594.2H215.8M209.4 604.0H215.8" stroke="#0000ff" stroke-width="1.25" fill="none"/><circle cx="212.6" cy="599.1" r="3.2" fill="#0000ff"/><path d="M226.9 594.0V602.8M223.7 594.0H230.1M223.7 602.8H230.1" stroke="#0000ff" stroke-width="1.25" fill="none"/><circle cx="226.9" cy="598.4" r="3.2" fill="#0000ff"/><path d="M241.2 593.6V602.0M238.0 593.6H244.4M238.0 602.0H244.4" stroke="#0000ff" stroke-width="1.25" fill="none"/><circle cx="241.2" cy="597.8" r="3.2" fill="#0000ff"/><path d="M255.5 593.2V601.2M252.3 593.2H258.7M252.3 601.2H258.7" stroke="#0000ff" stroke-width="1.25" fill="none"/><circle cx="255.5" cy="597.2" r="3.2" fill="#0000ff"/><path d="M269.9 593.2V600.4M266.7 593.2H273.1M266.7 600.4H273.1" stroke="#0000ff" stroke-width="1.25" fill="none"/><circle cx="269.9" cy="596.8" r="3.2" fill="#0000ff"/><path d="M284.2 593.2V600.0M281.0 593.2H287.4M281.0 600.0H287.4" stroke="#0000ff" stroke-width="1.25" fill="none"/><circle cx="284.2" cy="596.6" r="3.2" fill="#0000ff"/><circle cx="298.5" cy="596.3" r="3.2" fill="#0000ff"/><circle cx="312.8" cy="596.3" r="3.2" fill="#0000ff"/><circle cx="327.2" cy="596.3" r="3.2" fill="#0000ff"/><circle cx="341.5" cy="596.3" r="3.2" fill="#0000ff"/><circle cx="355.8" cy="596.3" r="3.2" fill="#0000ff"/></g>
<g><path d="M83.6 558.7V565.5M80.4 558.7H86.8M80.4 565.5H86.8" stroke="#66ccff" stroke-width="1.25" fill="none"/><circle cx="83.6" cy="562.1" r="3.2" fill="#66ccff"/><path d="M98.0 558.7V565.5M94.8 558.7H101.2M94.8 565.5H101.2" stroke="#66ccff" stroke-width="1.25" fill="none"/><circle cx="98.0" cy="562.1" r="3.2" fill="#66ccff"/><path d="M112.3 558.8V565.6M109.1 558.8H115.5M109.1 565.6H115.5" stroke="#66ccff" stroke-width="1.25" fill="none"/><circle cx="112.3" cy="562.2" r="3.2" fill="#66ccff"/><path d="M126.6 558.8V565.6M123.4 558.8H129.8M123.4 565.6H129.8" stroke="#66ccff" stroke-width="1.25" fill="none"/><circle cx="126.6" cy="562.2" r="3.2" fill="#66ccff"/><path d="M140.9 558.8V565.6M137.7 558.8H144.1M137.7 565.6H144.1" stroke="#66ccff" stroke-width="1.25" fill="none"/><circle cx="140.9" cy="562.2" r="3.2" fill="#66ccff"/><path d="M155.2 559.1V565.9M152.1 559.1H158.4M152.1 565.9H158.4" stroke="#66ccff" stroke-width="1.25" fill="none"/><circle cx="155.2" cy="562.5" r="3.2" fill="#66ccff"/><path d="M169.6 559.5V566.3M166.4 559.5H172.8M166.4 566.3H172.8" stroke="#66ccff" stroke-width="1.25" fill="none"/><circle cx="169.6" cy="562.9" r="3.2" fill="#66ccff"/><path d="M183.9 560.1V566.9M180.7 560.1H187.1M180.7 566.9H187.1" stroke="#66ccff" stroke-width="1.25" fill="none"/><circle cx="183.9" cy="563.5" r="3.2" fill="#66ccff"/><path d="M198.2 561.4V568.2M195.0 561.4H201.4M195.0 568.2H201.4" stroke="#66ccff" stroke-width="1.25" fill="none"/><circle cx="198.2" cy="564.8" r="3.2" fill="#66ccff"/><path d="M212.6 563.8V570.6M209.4 563.8H215.8M209.4 570.6H215.8" stroke="#66ccff" stroke-width="1.25" fill="none"/><circle cx="212.6" cy="567.2" r="3.2" fill="#66ccff"/><path d="M226.9 566.6V573.4M223.7 566.6H230.1M223.7 573.4H230.1" stroke="#66ccff" stroke-width="1.25" fill="none"/><circle cx="226.9" cy="570.0" r="3.2" fill="#66ccff"/><path d="M241.2 569.4V576.2M238.0 569.4H244.4M238.0 576.2H244.4" stroke="#66ccff" stroke-width="1.25" fill="none"/><circle cx="241.2" cy="572.8" r="3.2" fill="#66ccff"/><path d="M255.5 571.3V578.1M252.3 571.3H258.7M252.3 578.1H258.7" stroke="#66ccff" stroke-width="1.25" fill="none"/><circle cx="255.5" cy="574.7" r="3.2" fill="#66ccff"/><circle cx="269.9" cy="576.6" r="3.2" fill="#66ccff"/><circle cx="284.2" cy="578.8" r="3.2" fill="#66ccff"/><circle cx="298.5" cy="581.3" r="3.2" fill="#66ccff"/><circle cx="312.8" cy="584.1" r="3.2" fill="#66ccff"/><circle cx="327.2" cy="585.0" r="3.2" fill="#66ccff"/><circle cx="341.5" cy="586.9" r="3.2" fill="#66ccff"/><circle cx="355.8" cy="588.8" r="3.2" fill="#66ccff"/></g>
<g><circle cx="83.6" cy="581.6" r="3.2" fill="#00f000"/><circle cx="98.0" cy="571.3" r="3.2" fill="#00f000"/><circle cx="112.3" cy="564.8" r="3.2" fill="#00f000"/><circle cx="126.6" cy="561.6" r="3.2" fill="#00f000"/><circle cx="140.9" cy="558.8" r="3.2" fill="#00f000"/><circle cx="155.2" cy="557.8" r="3.2" fill="#00f000"/><circle cx="169.6" cy="557.8" r="3.2" fill="#00f000"/><circle cx="183.9" cy="557.7" r="3.2" fill="#00f000"/><circle cx="198.2" cy="557.7" r="3.2" fill="#00f000"/><circle cx="212.6" cy="557.6" r="3.2" fill="#00f000"/><circle cx="226.9" cy="557.6" r="3.2" fill="#00f000"/><circle cx="241.2" cy="558.4" r="3.2" fill="#00f000"/><circle cx="255.5" cy="559.3" r="3.2" fill="#00f000"/><circle cx="269.9" cy="561.6" r="3.2" fill="#00f000"/><circle cx="284.2" cy="563.1" r="3.2" fill="#00f000"/><circle cx="298.5" cy="565.0" r="3.2" fill="#00f000"/><circle cx="312.8" cy="566.3" r="3.2" fill="#00f000"/><circle cx="327.2" cy="567.6" r="3.2" fill="#00f000"/><circle cx="341.5" cy="568.7" r="3.2" fill="#00f000"/><circle cx="355.8" cy="570.0" r="3.2" fill="#00f000"/></g>
<path d="M69.8 878.8 L70.1 878.2 L70.5 877.7 L70.8 877.1 L71.2 876.6 L71.5 876.0 L71.8 875.5 L72.2 875.0 L72.5 874.4 L72.9 873.9 L73.2 873.4 L73.6 872.9 L73.9 872.4 L74.2 871.8 L74.6 871.3 L74.9 870.8 L75.3 870.3 L75.6 869.8 L76.0 869.3 L76.3 868.9 L76.7 868.4 L77.0 867.9 L77.4 867.4 L77.7 866.9 L78.1 866.5 L78.4 866.0 L78.8 865.5 L79.1 865.1 L79.5 864.6 L79.8 864.2 L80.2 863.7 L80.5 863.3 L80.9 862.8 L81.2 862.4 L81.6 862.0 L82.0 861.5 L82.3 861.1 L82.7 860.7 L83.0 860.3 L83.4 859.8 L83.7 859.4 L84.1 859.0 L84.4 858.6 L84.8 858.2 L85.1 857.8 L85.5 857.4 L85.8 857.0 L86.2 856.6 L86.6 856.2 L86.9 855.8 L87.3 855.4 L87.6 855.0 L88.0 854.7 L88.3 854.3 L88.7 853.9 L89.0 853.5 L89.4 853.2 L89.8 852.8 L90.1 852.4 L90.5 852.1 L90.8 851.7 L91.2 851.4 L91.5 851.0 L91.9 850.7 L92.3 850.3 L92.6 850.0 L93.0 849.6 L93.3 849.3 L93.7 848.9 L94.0 848.6 L94.4 848.3 L94.8 848.0 L95.1 847.6 L95.5 847.3 L95.8 847.0 L96.2 846.7 L96.5 846.3 L96.9 846.0 L97.3 845.7 L97.6 845.4 L98.0 845.1 L98.3 844.8 L98.7 844.5 L99.0 844.2 L99.4 843.9 L99.8 843.6 L100.1 843.3 L100.5 843.0 L100.8 842.7 L101.2 842.4 L101.5 842.1 L101.9 841.8 L102.3 841.6 L102.6 841.3 L103.0 841.0 L103.3 840.7 L103.7 840.5 L104.0 840.2 L104.4 839.9 L104.8 839.6 L105.1 839.4 L105.5 839.1 L105.8 838.9 L106.2 838.6 L106.6 838.3 L106.9 838.1 L107.3 837.8 L107.6 837.6 L108.0 837.3 L108.3 837.1 L108.7 836.8 L109.1 836.6 L109.4 836.3 L109.8 836.1 L110.1 835.9 L110.5 835.6 L110.8 835.4 L111.2 835.2 L111.6 834.9 L111.9 834.7 L112.3 834.5 L113.7 833.6 L115.1 832.7 L116.6 831.9 L118.0 831.0 L119.4 830.2 L120.9 829.5 L122.3 828.7 L123.7 828.0 L125.2 827.3 L126.6 826.6 L128.0 825.9 L129.5 825.3 L130.9 824.7 L132.3 824.1 L133.8 823.5 L135.2 822.9 L136.6 822.3 L138.1 821.8 L139.5 821.3 L140.9 820.8 L142.4 820.3 L143.8 819.8 L145.2 819.3 L146.7 818.9 L148.1 818.5 L149.5 818.0 L151.0 817.6 L152.4 817.2 L153.8 816.8 L155.3 816.5 L156.7 816.1 L158.1 815.7 L159.5 815.4 L161.0 815.1 L162.4 814.7 L163.8 814.4 L165.3 814.1 L166.7 813.8 L168.1 813.5 L169.6 813.3 L171.0 813.0 L172.4 812.7 L173.9 812.5 L175.3 812.2 L176.7 812.0 L178.2 811.7 L179.6 811.5 L181.0 811.3 L182.5 811.1 L183.9 810.9 L185.3 810.7 L186.8 810.5 L188.2 810.3 L189.6 810.1 L191.1 809.9 L192.5 809.8 L193.9 809.6 L195.4 809.4 L196.8 809.3 L198.2 809.1 L199.7 809.0 L201.1 808.8 L202.5 808.7 L204.0 808.6 L205.4 808.4 L206.8 808.3 L208.3 808.2 L209.7 808.1 L211.1 807.9 L212.6 807.8 L214.0 807.7 L215.4 807.6 L216.8 807.5 L218.3 807.4 L219.7 807.3 L221.1 807.2 L222.6 807.1 L224.0 807.0 L225.4 806.9 L226.9 806.9 L228.3 806.8 L229.7 806.7 L231.2 806.6 L232.6 806.6 L234.0 806.5 L235.5 806.4 L236.9 806.3 L238.3 806.3 L239.8 806.2 L241.2 806.2 L242.6 806.1 L244.1 806.0 L245.5 806.0 L246.9 805.9 L248.4 805.9 L249.8 805.8 L251.2 805.8 L252.7 805.7 L254.1 805.7 L255.5 805.6 L257.0 805.6 L258.4 805.5 L259.8 805.5 L261.3 805.5 L262.7 805.4 L264.1 805.4 L265.6 805.3 L267.0 805.3 L268.4 805.3 L269.9 805.2 L271.3 805.2 L272.7 805.2 L274.1 805.1 L275.6 805.1 L277.0 805.1 L278.4 805.0 L279.9 805.0 L281.3 805.0 L282.7 805.0 L284.2 804.9 L285.6 804.9 L287.0 804.9 L288.5 804.9 L289.9 804.8 L291.3 804.8 L292.8 804.8 L294.2 804.8 L295.6 804.8 L297.1 804.7 L298.5 804.7 L299.9 804.7 L301.4 804.7 L302.8 804.7 L304.2 804.7 L305.7 804.6 L307.1 804.6 L308.5 804.6 L310.0 804.6 L311.4 804.6 L312.8 804.6 L314.3 804.6 L315.7 804.5 L317.1 804.5 L318.6 804.5 L320.0 804.5 L321.4 804.5 L322.9 804.5 L324.3 804.5 L325.7 804.5 L327.2 804.4 L328.6 804.4 L330.0 804.4 L331.4 804.4 L332.9 804.4 L334.3 804.4 L335.7 804.4 L337.2 804.4 L338.6 804.4 L340.0 804.4 L341.5 804.4 L342.9 804.4 L344.3 804.3 L345.8 804.3 L347.2 804.3 L348.6 804.3 L350.1 804.3 L351.5 804.3 L352.9 804.3 L354.4 804.3 L355.8 804.3" fill="none" stroke="#ff0080" stroke-width="1.2" stroke-linejoin="round"/>
<path d="M69.8 878.8 L70.1 875.6 L70.5 872.4 L70.8 869.2 L71.2 866.1 L71.5 863.1 L71.8 860.0 L72.2 857.0 L72.5 854.1 L72.9 851.2 L73.2 848.3 L73.6 845.4 L73.9 842.6 L74.2 839.8 L74.6 837.1 L74.9 834.4 L75.3 831.7 L75.6 829.0 L76.0 826.4 L76.3 823.8 L76.7 821.3 L77.0 818.8 L77.4 816.3 L77.7 813.8 L78.1 811.4 L78.4 809.0 L78.8 806.6 L79.1 804.3 L79.5 801.9 L79.8 799.7 L80.2 797.4 L80.5 795.2 L80.9 793.0 L81.2 790.8 L81.6 788.6 L82.0 786.5 L82.3 784.4 L82.7 782.3 L83.0 780.3 L83.4 778.3 L83.7 776.3 L84.1 774.3 L84.4 772.3 L84.8 770.4 L85.1 768.5 L85.5 766.6 L85.8 764.8 L86.2 762.9 L86.6 761.1 L86.9 759.3 L87.3 757.6 L87.6 755.8 L88.0 754.1 L88.3 752.4 L88.7 750.7 L89.0 749.1 L89.4 747.4 L89.8 745.8 L90.1 744.2 L90.5 742.6 L90.8 741.0 L91.2 739.5 L91.5 738.0 L91.9 736.5 L92.3 735.0 L92.6 733.5 L93.0 732.1 L93.3 730.6 L93.7 729.2 L94.0 727.8 L94.4 726.4 L94.8 725.0 L95.1 723.7 L95.5 722.4 L95.8 721.0 L96.2 719.7 L96.5 718.5 L96.9 717.2 L97.3 715.9 L97.6 714.7 L98.0 713.5 L98.3 712.3 L98.7 711.1 L99.0 709.9 L99.4 708.7 L99.8 707.6 L100.1 706.4 L100.5 705.3 L100.8 704.2 L101.2 703.1 L101.5 702.0 L101.9 701.0 L102.3 699.9 L102.6 698.8 L103.0 697.8 L103.3 696.8 L103.7 695.8 L104.0 694.8 L104.4 693.8 L104.8 692.8 L105.1 691.9 L105.5 690.9 L105.8 690.0 L106.2 689.1 L106.6 688.2 L106.9 687.3 L107.3 686.4 L107.6 685.5 L108.0 684.6 L108.3 683.8 L108.7 682.9 L109.1 682.1 L109.4 681.3 L109.8 680.4 L110.1 679.6 L110.5 678.8 L110.8 678.1 L111.2 677.3 L111.6 676.5 L111.9 675.7 L112.3 675.0 L113.7 672.1 L115.1 669.3 L116.6 666.7 L118.0 664.2 L119.4 661.8 L120.9 659.5 L122.3 657.3 L123.7 655.3 L125.2 653.3 L126.6 651.4 L128.0 649.6 L129.5 647.9 L130.9 646.3 L132.3 644.8 L133.8 643.3 L135.2 641.9 L136.6 640.6 L138.1 639.3 L139.5 638.1 L140.9 637.0 L142.4 635.9 L143.8 634.9 L145.2 633.9 L146.7 632.9 L148.1 632.0 L149.5 631.2 L151.0 630.4 L152.4 629.6 L153.8 628.8 L155.3 628.1 L156.7 627.5 L158.1 626.8 L159.5 626.2 L161.0 625.7 L162.4 625.1 L163.8 624.6 L165.3 624.1 L166.7 623.6 L168.1 623.2 L169.6 622.7 L171.0 622.3 L172.4 621.9 L173.9 621.6 L175.3 621.2 L176.7 620.9 L178.2 620.5 L179.6 620.2 L181.0 619.9 L182.5 619.7 L183.9 619.4 L185.3 619.2 L186.8 618.9 L188.2 618.7 L189.6 618.5 L191.1 618.3 L192.5 618.1 L193.9 617.9 L195.4 617.7 L196.8 617.5 L198.2 617.4 L199.7 617.2 L201.1 617.1 L202.5 616.9 L204.0 616.8 L205.4 616.7 L206.8 616.6 L208.3 616.4 L209.7 616.3 L211.1 616.2 L212.6 616.1 L214.0 616.0 L215.4 615.9 L216.8 615.9 L218.3 615.8 L219.7 615.7 L221.1 615.6 L222.6 615.6 L224.0 615.5 L225.4 615.4 L226.9 615.4 L228.3 615.3 L229.7 615.2 L231.2 615.2 L232.6 615.1 L234.0 615.1 L235.5 615.1 L236.9 615.0 L238.3 615.0 L239.8 614.9 L241.2 614.9 L242.6 614.9 L244.1 614.8 L245.5 614.8 L246.9 614.8 L248.4 614.7 L249.8 614.7 L251.2 614.7 L252.7 614.7 L254.1 614.6 L255.5 614.6 L257.0 614.6 L258.4 614.6 L259.8 614.5 L261.3 614.5 L262.7 614.5 L264.1 614.5 L265.6 614.5 L267.0 614.5 L268.4 614.4 L269.9 614.4 L271.3 614.4 L272.7 614.4 L274.1 614.4 L275.6 614.4 L277.0 614.4 L278.4 614.4 L279.9 614.4 L281.3 614.3 L282.7 614.3 L284.2 614.3 L285.6 614.3 L287.0 614.3 L288.5 614.3 L289.9 614.3 L291.3 614.3 L292.8 614.3 L294.2 614.3 L295.6 614.3 L297.1 614.3 L298.5 614.3 L299.9 614.3 L301.4 614.2 L302.8 614.2 L304.2 614.2 L305.7 614.2 L307.1 614.2 L308.5 614.2 L310.0 614.2 L311.4 614.2 L312.8 614.2 L314.3 614.2 L315.7 614.2 L317.1 614.2 L318.6 614.2 L320.0 614.2 L321.4 614.2 L322.9 614.2 L324.3 614.2 L325.7 614.2 L327.2 614.2 L328.6 614.2 L330.0 614.2 L331.4 614.2 L332.9 614.2 L334.3 614.2 L335.7 614.2 L337.2 614.2 L338.6 614.2 L340.0 614.2 L341.5 614.2 L342.9 614.2 L344.3 614.2 L345.8 614.2 L347.2 614.2 L348.6 614.2 L350.1 614.2 L351.5 614.2 L352.9 614.2 L354.4 614.2 L355.8 614.2" fill="none" stroke="#000000" stroke-width="1.2" stroke-linejoin="round"/>
<path d="M69.8 878.8 L70.1 874.2 L70.5 869.7 L70.8 865.3 L71.2 860.9 L71.5 856.6 L71.8 852.4 L72.2 848.3 L72.5 844.2 L72.9 840.2 L73.2 836.2 L73.6 832.3 L73.9 828.5 L74.2 824.8 L74.6 821.1 L74.9 817.4 L75.3 813.9 L75.6 810.3 L76.0 806.9 L76.3 803.5 L76.7 800.1 L77.0 796.8 L77.4 793.6 L77.7 790.4 L78.1 787.3 L78.4 784.2 L78.8 781.2 L79.1 778.2 L79.5 775.2 L79.8 772.4 L80.2 769.5 L80.5 766.7 L80.9 764.0 L81.2 761.3 L81.6 758.6 L82.0 756.0 L82.3 753.4 L82.7 750.9 L83.0 748.4 L83.4 746.0 L83.7 743.6 L84.1 741.2 L84.4 738.9 L84.8 736.6 L85.1 734.3 L85.5 732.1 L85.8 729.9 L86.2 727.8 L86.6 725.7 L86.9 723.6 L87.3 721.6 L87.6 719.6 L88.0 717.6 L88.3 715.7 L88.7 713.7 L89.0 711.9 L89.4 710.0 L89.8 708.2 L90.1 706.4 L90.5 704.7 L90.8 702.9 L91.2 701.2 L91.5 699.6 L91.9 697.9 L92.3 696.3 L92.6 694.7 L93.0 693.1 L93.3 691.6 L93.7 690.1 L94.0 688.6 L94.4 687.1 L94.8 685.7 L95.1 684.2 L95.5 682.9 L95.8 681.5 L96.2 680.1 L96.5 678.8 L96.9 677.5 L97.3 676.2 L97.6 674.9 L98.0 673.7 L98.3 672.5 L98.7 671.3 L99.0 670.1 L99.4 668.9 L99.8 667.8 L100.1 666.7 L100.5 665.5 L100.8 664.5 L101.2 663.4 L101.5 662.3 L101.9 661.3 L102.3 660.3 L102.6 659.3 L103.0 658.3 L103.3 657.3 L103.7 656.4 L104.0 655.4 L104.4 654.5 L104.8 653.6 L105.1 652.7 L105.5 651.8 L105.8 650.9 L106.2 650.1 L106.6 649.3 L106.9 648.4 L107.3 647.6 L107.6 646.8 L108.0 646.0 L108.3 645.3 L108.7 644.5 L109.1 643.8 L109.4 643.0 L109.8 642.3 L110.1 641.6 L110.5 640.9 L110.8 640.2 L111.2 639.5 L111.6 638.9 L111.9 638.2 L112.3 637.6 L113.7 635.1 L115.1 632.8 L116.6 630.6 L118.0 628.6 L119.4 626.7 L120.9 625.0 L122.3 623.3 L123.7 621.7 L125.2 620.3 L126.6 618.9 L128.0 617.6 L129.5 616.4 L130.9 615.3 L132.3 614.3 L133.8 613.3 L135.2 612.4 L136.6 611.5 L138.1 610.7 L139.5 610.0 L140.9 609.3 L142.4 608.6 L143.8 608.0 L145.2 607.4 L146.7 606.9 L148.1 606.4 L149.5 605.9 L151.0 605.5 L152.4 605.0 L153.8 604.6 L155.3 604.3 L156.7 603.9 L158.1 603.6 L159.5 603.3 L161.0 603.0 L162.4 602.8 L163.8 602.5 L165.3 602.3 L166.7 602.1 L168.1 601.9 L169.6 601.7 L171.0 601.5 L172.4 601.4 L173.9 601.2 L175.3 601.1 L176.7 600.9 L178.2 600.8 L179.6 600.7 L181.0 600.6 L182.5 600.5 L183.9 600.4 L185.3 600.3 L186.8 600.2 L188.2 600.1 L189.6 600.0 L191.1 600.0 L192.5 599.9 L193.9 599.8 L195.4 599.8 L196.8 599.7 L198.2 599.7 L199.7 599.6 L201.1 599.6 L202.5 599.6 L204.0 599.5 L205.4 599.5 L206.8 599.4 L208.3 599.4 L209.7 599.4 L211.1 599.4 L212.6 599.3 L214.0 599.3 L215.4 599.3 L216.8 599.3 L218.3 599.2 L219.7 599.2 L221.1 599.2 L222.6 599.2 L224.0 599.2 L225.4 599.2 L226.9 599.1 L228.3 599.1 L229.7 599.1 L231.2 599.1 L232.6 599.1 L234.0 599.1 L235.5 599.1 L236.9 599.1 L238.3 599.1 L239.8 599.1 L241.2 599.1 L242.6 599.0 L244.1 599.0 L245.5 599.0 L246.9 599.0 L248.4 599.0 L249.8 599.0 L251.2 599.0 L252.7 599.0 L254.1 599.0 L255.5 599.0 L257.0 599.0 L258.4 599.0 L259.8 599.0 L261.3 599.0 L262.7 599.0 L264.1 599.0 L265.6 599.0 L267.0 599.0 L268.4 599.0 L269.9 599.0 L271.3 599.0 L272.7 599.0 L274.1 599.0 L275.6 599.0 L277.0 599.0 L278.4 599.0 L279.9 599.0 L281.3 599.0 L282.7 599.0 L284.2 599.0 L285.6 599.0 L287.0 599.0 L288.5 599.0 L289.9 599.0 L291.3 599.0 L292.8 599.0 L294.2 599.0 L295.6 599.0 L297.1 599.0 L298.5 599.0 L299.9 599.0 L301.4 599.0 L302.8 599.0 L304.2 599.0 L305.7 599.0 L307.1 599.0 L308.5 599.0 L310.0 599.0 L311.4 599.0 L312.8 599.0 L314.3 599.0 L315.7 599.0 L317.1 599.0 L318.6 599.0 L320.0 599.0 L321.4 599.0 L322.9 599.0 L324.3 599.0 L325.7 599.0 L327.2 599.0 L328.6 599.0 L330.0 599.0 L331.4 599.0 L332.9 599.0 L334.3 599.0 L335.7 599.0 L337.2 599.0 L338.6 598.9 L340.0 598.9 L341.5 598.9 L342.9 598.9 L344.3 598.9 L345.8 598.9 L347.2 598.9 L348.6 598.9 L350.1 598.9 L351.5 598.9 L352.9 598.9 L354.4 598.9 L355.8 598.9" fill="none" stroke="#0000ff" stroke-width="1.2" stroke-linejoin="round"/>
<path d="M69.8 878.8 L70.1 876.7 L70.5 874.6 L70.8 872.5 L71.2 870.5 L71.5 868.4 L71.8 866.4 L72.2 864.4 L72.5 862.4 L72.9 860.5 L73.2 858.5 L73.6 856.6 L73.9 854.6 L74.2 852.7 L74.6 850.8 L74.9 848.9 L75.3 847.1 L75.6 845.2 L76.0 843.4 L76.3 841.5 L76.7 839.7 L77.0 837.9 L77.4 836.1 L77.7 834.3 L78.1 832.6 L78.4 830.8 L78.8 829.1 L79.1 827.4 L79.5 825.7 L79.8 824.0 L80.2 822.3 L80.5 820.6 L80.9 819.0 L81.2 817.3 L81.6 815.7 L82.0 814.1 L82.3 812.5 L82.7 810.9 L83.0 809.3 L83.4 807.7 L83.7 806.2 L84.1 804.6 L84.4 803.1 L84.8 801.6 L85.1 800.1 L85.5 798.6 L85.8 797.1 L86.2 795.6 L86.6 794.1 L86.9 792.7 L87.3 791.2 L87.6 789.8 L88.0 788.4 L88.3 787.0 L88.7 785.6 L89.0 784.2 L89.4 782.8 L89.8 781.4 L90.1 780.1 L90.5 778.7 L90.8 777.4 L91.2 776.0 L91.5 774.7 L91.9 773.4 L92.3 772.1 L92.6 770.8 L93.0 769.6 L93.3 768.3 L93.7 767.0 L94.0 765.8 L94.4 764.5 L94.8 763.3 L95.1 762.1 L95.5 760.9 L95.8 759.7 L96.2 758.5 L96.5 757.3 L96.9 756.1 L97.3 755.0 L97.6 753.8 L98.0 752.7 L98.3 751.5 L98.7 750.4 L99.0 749.3 L99.4 748.1 L99.8 747.0 L100.1 745.9 L100.5 744.9 L100.8 743.8 L101.2 742.7 L101.5 741.6 L101.9 740.6 L102.3 739.5 L102.6 738.5 L103.0 737.5 L103.3 736.4 L103.7 735.4 L104.0 734.4 L104.4 733.4 L104.8 732.4 L105.1 731.4 L105.5 730.4 L105.8 729.5 L106.2 728.5 L106.6 727.6 L106.9 726.6 L107.3 725.7 L107.6 724.7 L108.0 723.8 L108.3 722.9 L108.7 722.0 L109.1 721.1 L109.4 720.2 L109.8 719.3 L110.1 718.4 L110.5 717.5 L110.8 716.6 L111.2 715.8 L111.6 714.9 L111.9 714.0 L112.3 713.2 L113.7 709.9 L115.1 706.7 L116.6 703.5 L118.0 700.5 L119.4 697.6 L120.9 694.7 L122.3 691.9 L123.7 689.3 L125.2 686.6 L126.6 684.1 L128.0 681.7 L129.5 679.3 L130.9 677.0 L132.3 674.8 L133.8 672.6 L135.2 670.5 L136.6 668.4 L138.1 666.5 L139.5 664.5 L140.9 662.7 L142.4 660.9 L143.8 659.1 L145.2 657.4 L146.7 655.8 L148.1 654.2 L149.5 652.6 L151.0 651.1 L152.4 649.7 L153.8 648.3 L155.3 646.9 L156.7 645.6 L158.1 644.3 L159.5 643.0 L161.0 641.8 L162.4 640.6 L163.8 639.5 L165.3 638.4 L166.7 637.3 L168.1 636.3 L169.6 635.2 L171.0 634.3 L172.4 633.3 L173.9 632.4 L175.3 631.5 L176.7 630.6 L178.2 629.8 L179.6 629.0 L181.0 628.2 L182.5 627.4 L183.9 626.7 L185.3 625.9 L186.8 625.2 L188.2 624.5 L189.6 623.9 L191.1 623.2 L192.5 622.6 L193.9 622.0 L195.4 621.4 L196.8 620.9 L198.2 620.3 L199.7 619.8 L201.1 619.3 L202.5 618.8 L204.0 618.3 L205.4 617.8 L206.8 617.4 L208.3 616.9 L209.7 616.5 L211.1 616.1 L212.6 615.7 L214.0 615.3 L215.4 614.9 L216.8 614.5 L218.3 614.2 L219.7 613.8 L221.1 613.5 L222.6 613.1 L224.0 612.8 L225.4 612.5 L226.9 612.2 L228.3 611.9 L229.7 611.7 L231.2 611.4 L232.6 611.1 L234.0 610.9 L235.5 610.6 L236.9 610.4 L238.3 610.1 L239.8 609.9 L241.2 609.7 L242.6 609.5 L244.1 609.3 L245.5 609.1 L246.9 608.9 L248.4 608.7 L249.8 608.5 L251.2 608.3 L252.7 608.1 L254.1 608.0 L255.5 607.8 L257.0 607.7 L258.4 607.5 L259.8 607.4 L261.3 607.2 L262.7 607.1 L264.1 606.9 L265.6 606.8 L267.0 606.7 L268.4 606.6 L269.9 606.4 L271.3 606.3 L272.7 606.2 L274.1 606.1 L275.6 606.0 L277.0 605.9 L278.4 605.8 L279.9 605.7 L281.3 605.6 L282.7 605.5 L284.2 605.4 L285.6 605.3 L287.0 605.3 L288.5 605.2 L289.9 605.1 L291.3 605.0 L292.8 605.0 L294.2 604.9 L295.6 604.8 L297.1 604.7 L298.5 604.7 L299.9 604.6 L301.4 604.6 L302.8 604.5 L304.2 604.4 L305.7 604.4 L307.1 604.3 L308.5 604.3 L310.0 604.2 L311.4 604.2 L312.8 604.1 L314.3 604.1 L315.7 604.0 L317.1 604.0 L318.6 603.9 L320.0 603.9 L321.4 603.9 L322.9 603.8 L324.3 603.8 L325.7 603.8 L327.2 603.7 L328.6 603.7 L330.0 603.7 L331.4 603.6 L332.9 603.6 L334.3 603.6 L335.7 603.5 L337.2 603.5 L338.6 603.5 L340.0 603.4 L341.5 603.4 L342.9 603.4 L344.3 603.4 L345.8 603.3 L347.2 603.3 L348.6 603.3 L350.1 603.3 L351.5 603.3 L352.9 603.2 L354.4 603.2 L355.8 603.2" fill="none" stroke="#ff0000" stroke-width="1.2" stroke-linejoin="round"/>
<path d="M69.8 878.8 L70.1 834.4 L70.5 796.3 L70.8 763.4 L71.2 735.1 L71.5 710.8 L71.8 689.8 L72.2 671.8 L72.5 656.3 L72.9 642.9 L73.2 631.4 L73.6 621.5 L73.9 613.0 L74.2 605.7 L74.6 599.4 L74.9 593.9 L75.3 589.3 L75.6 585.2 L76.0 581.8 L76.3 578.8 L76.7 576.2 L77.0 574.0 L77.4 572.1 L77.7 570.5 L78.1 569.1 L78.4 567.9 L78.8 566.8 L79.1 565.9 L79.5 565.1 L79.8 564.5 L80.2 563.9 L80.5 563.4 L80.9 563.0 L81.2 562.6 L81.6 562.3 L82.0 562.0 L82.3 561.8 L82.7 561.6 L83.0 561.4 L83.4 561.3 L83.7 561.2 L84.1 561.0 L84.4 561.0 L84.8 560.9 L85.1 560.8 L85.5 560.7 L85.8 560.7 L86.2 560.6 L86.6 560.6 L86.9 560.6 L87.3 560.5 L87.6 560.5 L88.0 560.5 L88.3 560.5 L88.7 560.5 L89.0 560.5 L89.4 560.4 L89.8 560.4 L90.1 560.4 L90.5 560.4 L90.8 560.4 L91.2 560.4 L91.5 560.4 L91.9 560.4 L92.3 560.4 L92.6 560.4 L93.0 560.4 L93.3 560.4 L93.7 560.4 L94.0 560.4 L94.4 560.4 L94.8 560.4 L95.1 560.4 L95.5 560.4 L95.8 560.4 L96.2 560.4 L96.5 560.4 L96.9 560.4 L97.3 560.4 L97.6 560.4 L98.0 560.4 L98.3 560.4 L98.7 560.4 L99.0 560.4 L99.4 560.4 L99.8 560.4 L100.1 560.4 L100.5 560.4 L100.8 560.4 L101.2 560.4 L101.5 560.4 L101.9 560.4 L102.3 560.4 L102.6 560.4 L103.0 560.4 L103.3 560.4 L103.7 560.4 L104.0 560.4 L104.4 560.4 L104.8 560.4 L105.1 560.4 L105.5 560.4 L105.8 560.4 L106.2 560.4 L106.6 560.4 L106.9 560.4 L107.3 560.4 L107.6 560.4 L108.0 560.4 L108.3 560.4 L108.7 560.4 L109.1 560.4 L109.4 560.4 L109.8 560.4 L110.1 560.4 L110.5 560.4 L110.8 560.4 L111.2 560.4 L111.6 560.4 L111.9 560.4 L112.3 560.4 L113.7 560.4 L115.1 560.4 L116.6 560.4 L118.0 560.4 L119.4 560.4 L120.9 560.4 L122.3 560.4 L123.7 560.4 L125.2 560.4 L126.6 560.4 L128.0 560.4 L129.5 560.4 L130.9 560.4 L132.3 560.4 L133.8 560.4 L135.2 560.4 L136.6 560.4 L138.1 560.4 L139.5 560.4 L140.9 560.4 L142.4 560.4 L143.8 560.4 L145.2 560.4 L146.7 560.4 L148.1 560.4 L149.5 560.4 L151.0 560.4 L152.4 560.4 L153.8 560.4 L155.3 560.4 L156.7 560.4 L158.1 560.4 L159.5 560.4 L161.0 560.4 L162.4 560.4 L163.8 560.4 L165.3 560.4 L166.7 560.4 L168.1 560.4 L169.6 560.4 L171.0 560.4 L172.4 560.4 L173.9 560.4 L175.3 560.4 L176.7 560.4 L178.2 560.4 L179.6 560.4 L181.0 560.4 L182.5 560.4 L183.9 560.4 L185.3 560.4 L186.8 560.4 L188.2 560.4 L189.6 560.4 L191.1 560.4 L192.5 560.4 L193.9 560.4 L195.4 560.4 L196.8 560.4 L198.2 560.4 L199.7 560.4 L201.1 560.4 L202.5 560.4 L204.0 560.4 L205.4 560.4 L206.8 560.4 L208.3 560.4 L209.7 560.4 L211.1 560.4 L212.6 560.4 L214.0 560.4 L215.4 560.4 L216.8 560.4 L218.3 560.4 L219.7 560.4 L221.1 560.4 L222.6 560.4 L224.0 560.4 L225.4 560.4 L226.9 560.4 L228.3 560.4 L229.7 560.4 L231.2 560.4 L232.6 560.4 L234.0 560.4 L235.5 560.4 L236.9 560.4 L238.3 560.4 L239.8 560.4 L241.2 560.4 L242.6 560.4 L244.1 560.4 L245.5 560.4 L246.9 560.4 L248.4 560.4 L249.8 560.4 L251.2 560.4 L252.7 560.4 L254.1 560.4 L255.5 560.4 L257.0 560.4 L258.4 560.4 L259.8 560.4 L261.3 560.4 L262.7 560.4 L264.1 560.4 L265.6 560.4 L267.0 560.4 L268.4 560.4 L269.9 560.4 L271.3 560.4 L272.7 560.4 L274.1 560.4 L275.6 560.4 L277.0 560.4 L278.4 560.4 L279.9 560.4 L281.3 560.4 L282.7 560.4 L284.2 560.4 L285.6 560.4 L287.0 560.4 L288.5 560.4 L289.9 560.4 L291.3 560.4 L292.8 560.4 L294.2 560.4 L295.6 560.4 L297.1 560.4 L298.5 560.4 L299.9 560.4 L301.4 560.4 L302.8 560.4 L304.2 560.4 L305.7 560.4 L307.1 560.4 L308.5 560.4 L310.0 560.4 L311.4 560.4 L312.8 560.4 L314.3 560.4 L315.7 560.4 L317.1 560.4 L318.6 560.4 L320.0 560.4 L321.4 560.4 L322.9 560.4 L324.3 560.4 L325.7 560.4 L327.2 560.4 L328.6 560.4 L330.0 560.4 L331.4 560.4 L332.9 560.4 L334.3 560.4 L335.7 560.4 L337.2 560.4 L338.6 560.4 L340.0 560.4 L341.5 560.4 L342.9 560.4 L344.3 560.4 L345.8 560.4 L347.2 560.4 L348.6 560.4 L350.1 560.4 L351.5 560.4 L352.9 560.4 L354.4 560.4 L355.8 560.4" fill="none" stroke="#66ccff" stroke-width="1.2" stroke-linejoin="round"/>
<path d="M69.8 878.8 L70.1 859.3 L70.5 841.0 L70.8 823.8 L71.2 807.7 L71.5 792.5 L71.8 778.3 L72.2 764.9 L72.5 752.3 L72.9 740.5 L73.2 729.4 L73.6 719.0 L73.9 709.2 L74.2 700.0 L74.6 691.4 L74.9 683.3 L75.3 675.6 L75.6 668.5 L76.0 661.7 L76.3 655.4 L76.7 649.5 L77.0 643.9 L77.4 638.7 L77.7 633.7 L78.1 629.1 L78.4 624.8 L78.8 620.7 L79.1 616.9 L79.5 613.3 L79.8 609.9 L80.2 606.7 L80.5 603.7 L80.9 600.9 L81.2 598.3 L81.6 595.8 L82.0 593.5 L82.3 591.3 L82.7 589.2 L83.0 587.3 L83.4 585.5 L83.7 583.8 L84.1 582.2 L84.4 580.7 L84.8 579.3 L85.1 578.0 L85.5 576.7 L85.8 575.5 L86.2 574.4 L86.6 573.4 L86.9 572.4 L87.3 571.5 L87.6 570.7 L88.0 569.9 L88.3 569.1 L88.7 568.4 L89.0 567.7 L89.4 567.1 L89.8 566.5 L90.1 566.0 L90.5 565.5 L90.8 565.0 L91.2 564.5 L91.5 564.1 L91.9 563.7 L92.3 563.3 L92.6 562.9 L93.0 562.6 L93.3 562.3 L93.7 562.0 L94.0 561.7 L94.4 561.5 L94.8 561.2 L95.1 561.0 L95.5 560.8 L95.8 560.6 L96.2 560.4 L96.5 560.2 L96.9 560.0 L97.3 559.9 L97.6 559.7 L98.0 559.6 L98.3 559.5 L98.7 559.3 L99.0 559.2 L99.4 559.1 L99.8 559.0 L100.1 558.9 L100.5 558.8 L100.8 558.7 L101.2 558.7 L101.5 558.6 L101.9 558.5 L102.3 558.4 L102.6 558.4 L103.0 558.3 L103.3 558.3 L103.7 558.2 L104.0 558.2 L104.4 558.1 L104.8 558.1 L105.1 558.0 L105.5 558.0 L105.8 558.0 L106.2 557.9 L106.6 557.9 L106.9 557.9 L107.3 557.8 L107.6 557.8 L108.0 557.8 L108.3 557.8 L108.7 557.7 L109.1 557.7 L109.4 557.7 L109.8 557.7 L110.1 557.7 L110.5 557.7 L110.8 557.6 L111.2 557.6 L111.6 557.6 L111.9 557.6 L112.3 557.6 L113.7 557.6 L115.1 557.5 L116.6 557.5 L118.0 557.5 L119.4 557.5 L120.9 557.5 L122.3 557.4 L123.7 557.4 L125.2 557.4 L126.6 557.4 L128.0 557.4 L129.5 557.4 L130.9 557.4 L132.3 557.4 L133.8 557.4 L135.2 557.4 L136.6 557.4 L138.1 557.4 L139.5 557.4 L140.9 557.4 L142.4 557.4 L143.8 557.4 L145.2 557.4 L146.7 557.4 L148.1 557.4 L149.5 557.4 L151.0 557.4 L152.4 557.4 L153.8 557.4 L155.3 557.4 L156.7 557.4 L158.1 557.4 L159.5 557.4 L161.0 557.4 L162.4 557.4 L163.8 557.4 L165.3 557.4 L166.7 557.4 L168.1 557.4 L169.6 557.4 L171.0 557.4 L172.4 557.4 L173.9 557.4 L175.3 557.4 L176.7 557.4 L178.2 557.4 L179.6 557.4 L181.0 557.4 L182.5 557.4 L183.9 557.4 L185.3 557.4 L186.8 557.4 L188.2 557.4 L189.6 557.4 L191.1 557.4 L192.5 557.4 L193.9 557.4 L195.4 557.4 L196.8 557.4 L198.2 557.4 L199.7 557.4 L201.1 557.4 L202.5 557.4 L204.0 557.4 L205.4 557.4 L206.8 557.4 L208.3 557.4 L209.7 557.4 L211.1 557.4 L212.6 557.4 L214.0 557.4 L215.4 557.4 L216.8 557.4 L218.3 557.4 L219.7 557.4 L221.1 557.4 L222.6 557.4 L224.0 557.4 L225.4 557.4 L226.9 557.4 L228.3 557.4 L229.7 557.4 L231.2 557.4 L232.6 557.4 L234.0 557.4 L235.5 557.4 L236.9 557.4 L238.3 557.4 L239.8 557.4 L241.2 557.4 L242.6 557.4 L244.1 557.4 L245.5 557.4 L246.9 557.4 L248.4 557.4 L249.8 557.4 L251.2 557.4 L252.7 557.4 L254.1 557.4 L255.5 557.4 L257.0 557.4 L258.4 557.4 L259.8 557.4 L261.3 557.4 L262.7 557.4 L264.1 557.4 L265.6 557.4 L267.0 557.4 L268.4 557.4 L269.9 557.4 L271.3 557.4 L272.7 557.4 L274.1 557.4 L275.6 557.4 L277.0 557.4 L278.4 557.4 L279.9 557.4 L281.3 557.4 L282.7 557.4 L284.2 557.4 L285.6 557.4 L287.0 557.4 L288.5 557.4 L289.9 557.4 L291.3 557.4 L292.8 557.4 L294.2 557.4 L295.6 557.4 L297.1 557.4 L298.5 557.4 L299.9 557.4 L301.4 557.4 L302.8 557.4 L304.2 557.4 L305.7 557.4 L307.1 557.4 L308.5 557.4 L310.0 557.4 L311.4 557.4 L312.8 557.4 L314.3 557.4 L315.7 557.4 L317.1 557.4 L318.6 557.4 L320.0 557.4 L321.4 557.4 L322.9 557.4 L324.3 557.4 L325.7 557.4 L327.2 557.4 L328.6 557.4 L330.0 557.4 L331.4 557.4 L332.9 557.4 L334.3 557.4 L335.7 557.4 L337.2 557.4 L338.6 557.4 L340.0 557.4 L341.5 557.4 L342.9 557.4 L344.3 557.4 L345.8 557.4 L347.2 557.4 L348.6 557.4 L350.1 557.4 L351.5 557.4 L352.9 557.4 L354.4 557.4 L355.8 557.4" fill="none" stroke="#00f000" stroke-width="1.2" stroke-linejoin="round"/>
<text x="392.8" y="991.6" font-family="Liberation Sans, Arial, sans-serif" font-weight="bold" font-size="21.3">time (s)</text>
<text x="107.9" y="525.1" font-family="Liberation Sans, Arial, sans-serif" font-weight="bold" font-size="21.3"><tspan font-style="italic">S. epidermidis</tspan> PSMs</text>
<text transform="translate(22.0 916.6) rotate(-90)" font-family="Liberation Sans, Arial, sans-serif" font-weight="bold" font-size="21.5">fluorescence (arbitrary units, x 10<tspan font-size="16" dy="-7.4">6</tspan><tspan dy="7.4">)</tspan></text>
<text x="457.9" y="537.6" font-family="Liberation Sans, Arial, sans-serif" font-weight="bold" font-size="21.3">K<tspan dx="-1.2"> (s</tspan><tspan font-size="16" dy="-7.2" dx="0.4">-1</tspan><tspan dy="7.2" dx="0.6">)</tspan></text>
<path d="M371.6 561.0H382.2" stroke="#00f000" stroke-width="1.15"/><circle cx="376.9" cy="561.0" r="3.1" fill="#00f000"/>
<text x="394.9" y="565.8" font-family="Liberation Sans, Arial, sans-serif" font-weight="bold" font-size="17.8">PSM<tspan font-family="Liberation Serif, Times New Roman, serif" font-weight="normal" font-size="19.400000000000002">δ</tspan></text>
<text x="464.6" y="565.8" font-family="Liberation Sans, Arial, sans-serif" font-weight="bold" font-size="17.8">1.948</text>
<path d="M371.6 578.8H382.2" stroke="#66ccff" stroke-width="1.15"/><circle cx="376.9" cy="578.8" r="3.1" fill="#66ccff"/>
<text x="394.9" y="584.0" font-family="Liberation Sans, Arial, sans-serif" font-weight="bold" font-size="17.8">PSM<tspan font-family="Liberation Serif, Times New Roman, serif" font-weight="normal" font-size="19.400000000000002">β1</tspan></text>
<text x="464.6" y="584.0" font-family="Liberation Sans, Arial, sans-serif" font-weight="bold" font-size="17.8">5.376</text>
<path d="M371.6 598.0H382.2" stroke="#0000ff" stroke-width="1.15"/><circle cx="376.9" cy="598.0" r="3.1" fill="#0000ff"/>
<text x="394.9" y="602.5" font-family="Liberation Sans, Arial, sans-serif" font-weight="bold" font-size="17.8">PSM<tspan font-family="Liberation Serif, Times New Roman, serif" font-weight="normal" font-size="19.400000000000002">β2</tspan></text>
<text x="464.6" y="602.5" font-family="Liberation Sans, Arial, sans-serif" font-weight="bold" font-size="17.8">0.2179</text>
<path d="M371.6 616.7H382.2" stroke="#ff0000" stroke-width="1.15"/><circle cx="376.9" cy="616.7" r="3.1" fill="#ff0000"/>
<text x="394.9" y="621.3" font-family="Liberation Sans, Arial, sans-serif" font-weight="bold" font-size="17.8">PSM<tspan font-family="Liberation Serif, Times New Roman, serif" font-weight="normal" font-size="19.400000000000002">α</tspan></text>
<text x="464.6" y="621.3" font-family="Liberation Sans, Arial, sans-serif" font-weight="bold" font-size="17.8">0.02242</text>
<path d="M371.6 635.0H382.2" stroke="#000000" stroke-width="1.15"/><circle cx="376.9" cy="635.0" r="3.1" fill="#000000"/>
<text x="394.9" y="639.8" font-family="Liberation Sans, Arial, sans-serif" font-weight="bold" font-size="17.8"><tspan font-family="Liberation Serif, Times New Roman, serif" font-weight="normal" font-size="19.400000000000002">δ</tspan>-toxin</text>
<text x="464.6" y="639.8" font-family="Liberation Sans, Arial, sans-serif" font-weight="bold" font-size="17.8">0.427</text>
<path d="M375.8 798.2H386.4" stroke="#ff0080" stroke-width="1.15"/><circle cx="381.1" cy="798.2" r="3.1" fill="#ff0080"/>
<text x="399.8" y="803.4" font-family="Liberation Sans, Arial, sans-serif" font-weight="bold" font-size="17.8">PSM<tspan font-family="Liberation Serif, Times New Roman, serif" font-weight="normal" font-size="19.400000000000002">ε</tspan></text>
<text x="468.9" y="803.4" font-family="Liberation Sans, Arial, sans-serif" font-weight="bold" font-size="17.8">0.7054</text>
</svg>
</body></html>
